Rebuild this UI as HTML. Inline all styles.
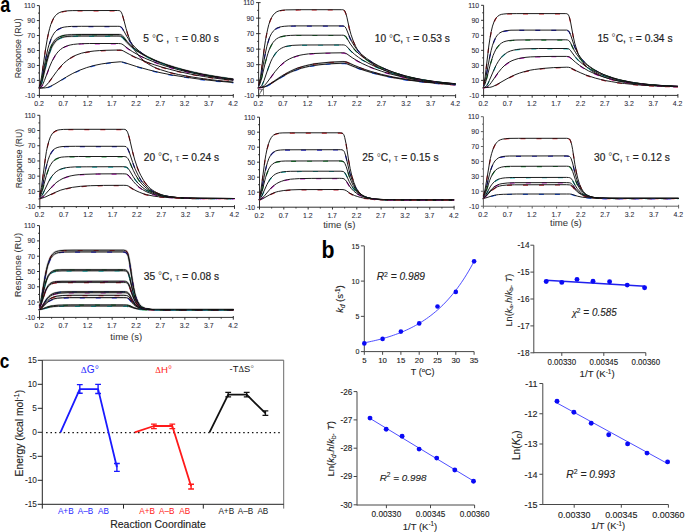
<!DOCTYPE html>
<html><head><meta charset="utf-8"><style>
html,body{margin:0;padding:0;background:#fff;width:685px;height:532px;overflow:hidden}
svg{display:block}
text{font-family:"Liberation Sans", sans-serif}
</style></head><body>
<svg width="685" height="532" viewBox="0 0 685 532">
<rect width="685" height="532" fill="#fff"/>
<path d="M39.4,5.6 V95.9 M39.4,95.4 H233.3 M36.9,95.4 H39.4 M38,87.92 H39.4 M36.9,80.43 H39.4 M38,72.95 H39.4 M36.9,65.47 H39.4 M38,57.98 H39.4 M36.9,50.5 H39.4 M38,43.02 H39.4 M36.9,35.53 H39.4 M38,28.05 H39.4 M36.9,20.57 H39.4 M38,13.08 H39.4 M36.9,5.6 H39.4 M39.4,95.4 V97.7 M51.52,95.4 V96.7 M63.64,95.4 V97.7 M75.76,95.4 V96.7 M87.88,95.4 V97.7 M99.99,95.4 V96.7 M112.11,95.4 V97.7 M124.23,95.4 V96.7 M136.35,95.4 V97.7 M148.47,95.4 V96.7 M160.59,95.4 V97.7 M172.71,95.4 V96.7 M184.83,95.4 V97.7 M196.94,95.4 V96.7 M209.06,95.4 V97.7 M221.18,95.4 V96.7 M233.3,94 V97.7" stroke="#262626" stroke-width="0.95" fill="none"/>
<text x="35" y="97.85" font-size="6.9" fill="#2b2b3a" text-anchor="end" stroke="#2b2b3a" stroke-width="0.08" xml:space="preserve">-10</text>
<text x="35" y="82.88" font-size="6.9" fill="#2b2b3a" text-anchor="end" stroke="#2b2b3a" stroke-width="0.08" xml:space="preserve">10</text>
<text x="35" y="67.92" font-size="6.9" fill="#2b2b3a" text-anchor="end" stroke="#2b2b3a" stroke-width="0.08" xml:space="preserve">30</text>
<text x="35" y="52.95" font-size="6.9" fill="#2b2b3a" text-anchor="end" stroke="#2b2b3a" stroke-width="0.08" xml:space="preserve">50</text>
<text x="35" y="37.98" font-size="6.9" fill="#2b2b3a" text-anchor="end" stroke="#2b2b3a" stroke-width="0.08" xml:space="preserve">70</text>
<text x="35" y="23.02" font-size="6.9" fill="#2b2b3a" text-anchor="end" stroke="#2b2b3a" stroke-width="0.08" xml:space="preserve">90</text>
<text x="35" y="8.05" font-size="6.9" fill="#2b2b3a" text-anchor="end" stroke="#2b2b3a" stroke-width="0.08" xml:space="preserve">110</text>
<text x="39.1" y="106.1" font-size="6.9" fill="#2b2b3a" text-anchor="middle" stroke="#2b2b3a" stroke-width="0.08" xml:space="preserve">0.2</text>
<text x="63.34" y="106.1" font-size="6.9" fill="#2b2b3a" text-anchor="middle" stroke="#2b2b3a" stroke-width="0.08" xml:space="preserve">0.7</text>
<text x="87.58" y="106.1" font-size="6.9" fill="#2b2b3a" text-anchor="middle" stroke="#2b2b3a" stroke-width="0.08" xml:space="preserve">1.2</text>
<text x="111.81" y="106.1" font-size="6.9" fill="#2b2b3a" text-anchor="middle" stroke="#2b2b3a" stroke-width="0.08" xml:space="preserve">1.7</text>
<text x="136.05" y="106.1" font-size="6.9" fill="#2b2b3a" text-anchor="middle" stroke="#2b2b3a" stroke-width="0.08" xml:space="preserve">2.2</text>
<text x="160.29" y="106.1" font-size="6.9" fill="#2b2b3a" text-anchor="middle" stroke="#2b2b3a" stroke-width="0.08" xml:space="preserve">2.7</text>
<text x="184.53" y="106.1" font-size="6.9" fill="#2b2b3a" text-anchor="middle" stroke="#2b2b3a" stroke-width="0.08" xml:space="preserve">3.2</text>
<text x="208.76" y="106.1" font-size="6.9" fill="#2b2b3a" text-anchor="middle" stroke="#2b2b3a" stroke-width="0.08" xml:space="preserve">3.7</text>
<text x="233" y="106.1" font-size="6.9" fill="#2b2b3a" text-anchor="middle" stroke="#2b2b3a" stroke-width="0.08" xml:space="preserve">4.2</text>
<g fill="none"><path id="c1" d="M39.4,85.9 40.4,82.9 41.5,77.1 45.4,50.1 47.5,37.6 48.5,33.0 49.7,28.3 50.8,24.5 52.2,21.0 53.7,18.0 55.3,15.8 57.0,14.1 59.2,12.7 61.5,11.8 64.4,11.2 67.9,10.8 72.8,10.6 117.3,10.5 118.9,10.6 119.9,10.8 120.5,11.2 121.0,11.9 121.6,12.9 122.2,14.3 123.2,17.5 126.1,28.6 128.0,35.0 130.5,41.7 133.2,47.4 134.8,50.1 136.4,52.5 138.1,54.9 139.8,57.0 141.8,59.0 143.7,60.7 145.9,62.4 148.2,64.0 150.9,65.5 153.8,67.0 157.1,68.4 160.6,69.7 168.7,72.2 178.4,74.5 190.1,76.7 203.2,78.7 217.6,80.5 233.3,82.1"/>
<path id="c2" d="M39.4,86.5 40.0,85.4 40.6,83.8 41.7,79.4 45.8,58.2 47.9,48.7 49.1,44.5 50.3,41.0 51.4,38.1 52.6,35.7 54.1,33.2 55.7,31.3 57.4,29.7 59.4,28.6 61.5,27.7 64.2,27.1 67.3,26.7 71.4,26.4 81.7,26.3 117.2,26.3 119.1,26.3 120.3,26.5 121.4,27.2 122.6,28.7 126.7,36.2 129.8,41.1 132.3,44.3 135.2,47.5 139.1,51.0 143.3,54.1 148.2,57.1 153.8,59.9 161.0,63.0 169.1,66.0 178.2,68.8 187.9,71.3 198.2,73.7 209.3,75.8 220.9,77.7 233.3,79.4"/>
<path id="c3" d="M39.4,86.8 40.0,85.9 40.6,84.6 41.7,81.0 46.0,62.4 48.3,53.8 50.5,47.8 51.6,45.3 52.8,43.2 54.3,41.0 55.9,39.3 57.6,37.9 59.8,36.7 61.9,35.9 64.4,35.3 67.5,34.9 71.4,34.7 81.9,34.5 117.0,34.5 119.3,34.5 120.5,34.7 121.6,35.2 122.6,36.0 127.2,41.7 130.7,45.4 133.8,48.1 137.3,50.7 142.0,53.8 147.0,56.6 152.6,59.3 159.0,62.0 166.4,64.7 174.5,67.3 183.1,69.7 192.2,72.0 201.7,74.1 211.8,75.9 222.2,77.6 233.3,79.2"/>
<path id="c4" d="M39.4,87.3 40.2,86.4 40.8,85.4 42.1,81.5 46.6,62.7 48.9,54.5 51.0,48.7 52.2,46.3 53.4,44.3 54.9,42.2 56.5,40.5 58.2,39.2 60.1,38.1 62.3,37.4 64.8,36.8 67.9,36.4 71.6,36.2 81.9,36.0 116.2,36.0 119.1,36.0 120.5,36.2 121.6,36.7 122.6,37.4 127.2,42.7 130.9,46.3 134.2,49.0 137.9,51.6 142.6,54.4 147.8,57.2 153.6,59.9 160.2,62.6 167.8,65.3 175.7,67.8 184.2,70.1 193.2,72.3 202.5,74.3 212.2,76.1 222.4,77.7 233.3,79.2"/>
<path id="c5" d="M39.4,87.8 40.4,87.4 41.1,86.8 41.9,85.9 42.7,84.6 44.4,80.6 49.5,67.0 51.8,61.7 53.4,58.6 55.1,55.7 56.9,53.2 58.6,51.2 60.5,49.5 62.7,47.9 65.0,46.7 67.5,45.7 70.2,45.0 73.5,44.4 77.2,44.0 81.7,43.7 89.4,43.5 102.0,43.5 118.5,43.5 120.8,43.7 121.8,44.0 123.0,44.7 128.0,48.6 132.3,51.5 136.4,53.9 140.6,56.1 146.0,58.7 152.1,61.2 158.5,63.6 165.2,65.9 172.6,68.1 180.2,70.2 188.1,72.1 196.5,73.9 205.2,75.6 214.1,77.0 223.4,78.4 233.3,79.7"/>
<path id="c6" d="M39.4,88.0 41.5,87.9 43.1,87.6 44.4,86.9 45.8,85.8 48.5,82.7 56.5,71.7 58.8,68.7 61.1,66.0 63.6,63.4 66.4,61.0 69.1,59.0 71.8,57.2 74.9,55.6 78.0,54.4 81.5,53.2 85.4,52.3 89.4,51.6 94.1,51.0 99.3,50.6 105.3,50.3 118.7,50.0 120.5,50.0 121.6,50.2 123.2,50.9 129.2,54.2 134.8,57.0 140.6,59.6 147.0,62.2 154.2,64.7 161.8,67.1 169.7,69.3 178.0,71.4 190.4,74.1 203.8,76.5 218.0,78.6 233.3,80.4"/>
<path id="c7" d="M39.4,88.0 43.5,88.0 45.6,87.8 47.7,87.4 50.3,86.4 54.9,84.0 66.5,76.9 72.8,73.4 79.7,70.2 86.7,67.6 93.9,65.5 101.8,63.9 110.8,62.6 120.1,61.8 121.6,61.9 123.2,62.2 136.2,66.4 148.8,69.9 160.0,72.6 172.0,75.0 185.8,77.2 200.5,79.3 216.2,81.0 233.3,82.5"/>
<use href="#c3" stroke="#c8c8c8" stroke-width="2.0"/>
<use href="#c4" stroke="#c8c8c8" stroke-width="2.0"/>
<use href="#c1" stroke="#e0202a" stroke-width="1.2" stroke-dasharray="5 11" stroke-dashoffset="0" transform="translate(0,0.3)"/>
<use href="#c1" stroke="#111" stroke-width="0.95"/>
<use href="#c2" stroke="#2a2ae0" stroke-width="1.2" stroke-dasharray="5 11" stroke-dashoffset="4" transform="translate(0,0.3)"/>
<use href="#c2" stroke="#111" stroke-width="0.95"/>
<use href="#c3" stroke="#20a040" stroke-width="1.2" stroke-dasharray="5 11" stroke-dashoffset="8" transform="translate(0,0.3)"/>
<use href="#c3" stroke="#111" stroke-width="0.95"/>
<use href="#c4" stroke="#20c0c0" stroke-width="1.2" stroke-dasharray="5 11" stroke-dashoffset="12" transform="translate(0,0.3)"/>
<use href="#c4" stroke="#111" stroke-width="0.95"/>
<use href="#c5" stroke="#d020d0" stroke-width="1.2" stroke-dasharray="5 11" stroke-dashoffset="16" transform="translate(0,0.3)"/>
<use href="#c5" stroke="#111" stroke-width="0.95"/>
<use href="#c6" stroke="#c02030" stroke-width="1.2" stroke-dasharray="5 11" stroke-dashoffset="20" transform="translate(0,0.3)"/>
<use href="#c6" stroke="#111" stroke-width="0.95"/>
<use href="#c7" stroke="#2060ff" stroke-width="1.2" stroke-dasharray="5 11" stroke-dashoffset="24" transform="translate(0,0.3)"/>
<use href="#c7" stroke="#111" stroke-width="0.95"/></g>
<g transform="translate(143.3,42.2) scale(1.0000,1.0000) translate(-143.9,-41.4)"><text x="143.9" y="41.4" font-size="10.2" fill="#1e1e1e" stroke="#1e1e1e" stroke-width="0.2" textLength="75.6" lengthAdjust="spacing" xml:space="preserve">5 <tspan font-size="10" dy="-0.4" fill="#555" stroke="none">°</tspan><tspan dy="0.4">C ,  </tspan><tspan font-family='"Liberation Serif", serif' fill="#555" stroke="none" font-size="10.5">τ</tspan> = 0.80 s</text></g>
<path d="M258.6,2.6 V96.2 M258.6,95.7 H455.6 M256.1,95.7 H260.6 M257.2,87.94 H258.6 M256.1,80.18 H260.6 M257.2,72.42 H258.6 M256.1,64.67 H260.6 M257.2,56.91 H258.6 M256.1,49.15 H260.6 M257.2,41.39 H258.6 M256.1,33.63 H260.6 M257.2,25.88 H258.6 M256.1,18.12 H260.6 M257.2,10.36 H258.6 M256.1,2.6 H260.6 M258.6,95.7 V98 M270.91,95.7 V97 M283.23,95.7 V98 M295.54,95.7 V97 M307.85,95.7 V98 M320.16,95.7 V97 M332.48,95.7 V98 M344.79,95.7 V97 M357.1,95.7 V98 M369.41,95.7 V97 M381.73,95.7 V98 M394.04,95.7 V97 M406.35,95.7 V98 M418.66,95.7 V97 M430.98,95.7 V98 M443.29,95.7 V97 M455.6,94.3 V98" stroke="#262626" stroke-width="0.95" fill="none"/>
<text x="254.2" y="98.15" font-size="6.9" fill="#2b2b3a" text-anchor="end" stroke="#2b2b3a" stroke-width="0.08" xml:space="preserve">-10</text>
<text x="254.2" y="82.63" font-size="6.9" fill="#2b2b3a" text-anchor="end" stroke="#2b2b3a" stroke-width="0.08" xml:space="preserve">10</text>
<text x="254.2" y="67.12" font-size="6.9" fill="#2b2b3a" text-anchor="end" stroke="#2b2b3a" stroke-width="0.08" xml:space="preserve">30</text>
<text x="254.2" y="51.6" font-size="6.9" fill="#2b2b3a" text-anchor="end" stroke="#2b2b3a" stroke-width="0.08" xml:space="preserve">50</text>
<text x="254.2" y="36.08" font-size="6.9" fill="#2b2b3a" text-anchor="end" stroke="#2b2b3a" stroke-width="0.08" xml:space="preserve">70</text>
<text x="254.2" y="20.57" font-size="6.9" fill="#2b2b3a" text-anchor="end" stroke="#2b2b3a" stroke-width="0.08" xml:space="preserve">90</text>
<text x="254.2" y="5.05" font-size="6.9" fill="#2b2b3a" text-anchor="end" stroke="#2b2b3a" stroke-width="0.08" xml:space="preserve">110</text>
<text x="258.3" y="106.4" font-size="6.9" fill="#2b2b3a" text-anchor="middle" stroke="#2b2b3a" stroke-width="0.08" xml:space="preserve">0.2</text>
<text x="282.93" y="106.4" font-size="6.9" fill="#2b2b3a" text-anchor="middle" stroke="#2b2b3a" stroke-width="0.08" xml:space="preserve">0.7</text>
<text x="307.55" y="106.4" font-size="6.9" fill="#2b2b3a" text-anchor="middle" stroke="#2b2b3a" stroke-width="0.08" xml:space="preserve">1.2</text>
<text x="332.18" y="106.4" font-size="6.9" fill="#2b2b3a" text-anchor="middle" stroke="#2b2b3a" stroke-width="0.08" xml:space="preserve">1.7</text>
<text x="356.8" y="106.4" font-size="6.9" fill="#2b2b3a" text-anchor="middle" stroke="#2b2b3a" stroke-width="0.08" xml:space="preserve">2.2</text>
<text x="381.43" y="106.4" font-size="6.9" fill="#2b2b3a" text-anchor="middle" stroke="#2b2b3a" stroke-width="0.08" xml:space="preserve">2.7</text>
<text x="406.05" y="106.4" font-size="6.9" fill="#2b2b3a" text-anchor="middle" stroke="#2b2b3a" stroke-width="0.08" xml:space="preserve">3.2</text>
<text x="430.68" y="106.4" font-size="6.9" fill="#2b2b3a" text-anchor="middle" stroke="#2b2b3a" stroke-width="0.08" xml:space="preserve">3.7</text>
<text x="455.3" y="106.4" font-size="6.9" fill="#2b2b3a" text-anchor="middle" stroke="#2b2b3a" stroke-width="0.08" xml:space="preserve">4.2</text>
<g fill="none"><path id="c8" d="M258.6,85.0 259.6,81.6 260.6,76.2 264.3,48.0 265.5,40.2 266.5,34.7 267.7,29.1 268.8,24.6 270.2,20.5 271.6,17.5 273.2,15.0 275.0,13.1 276.9,11.7 279.5,10.7 282.2,10.2 285.8,9.9 299.2,9.7 341.3,9.7 342.7,9.7 343.7,10.0 344.3,10.4 344.9,11.2 345.9,13.6 346.9,17.2 349.4,28.7 351.0,34.5 353.2,40.9 355.5,46.1 356.9,48.6 358.5,51.0 360.3,53.4 362.0,55.5 364.0,57.5 366.2,59.4 368.5,61.3 371.3,63.2 374.6,65.3 378.4,67.4 382.3,69.4 386.7,71.3 391.0,73.0 395.7,74.7 400.4,76.1 405.6,77.5 416.2,79.9 428.0,81.9 441.0,83.5 455.6,84.8"/>
<path id="c9" d="M258.6,85.8 259.6,83.3 260.8,78.4 264.7,56.3 266.9,46.2 267.9,42.6 269.0,39.0 270.2,36.1 271.6,33.4 273.2,31.2 274.8,29.6 276.7,28.2 278.9,27.3 281.3,26.7 284.2,26.3 288.2,26.0 293.7,25.9 341.3,25.9 342.9,25.9 343.9,26.1 344.5,26.4 345.1,26.9 346.3,28.8 350.0,38.0 352.6,43.1 354.9,46.8 357.7,50.4 359.7,52.5 361.8,54.6 366.6,58.4 372.3,62.3 378.6,65.8 385.9,69.2 393.7,72.3 402.2,75.1 411.3,77.5 420.9,79.5 431.6,81.3 443.0,82.8 455.6,84.0"/>
<path id="c10" d="M258.6,86.4 259.2,85.5 259.8,84.3 261.0,80.7 265.5,61.7 267.9,53.5 269.0,50.2 270.2,47.4 271.6,44.7 273.0,42.5 274.8,40.4 276.5,38.9 278.5,37.7 280.9,36.7 283.4,36.1 286.6,35.7 290.5,35.4 296.0,35.2 341.3,35.2 343.1,35.2 344.1,35.4 345.3,36.0 346.3,37.1 350.4,44.1 353.4,48.1 356.3,51.4 359.7,54.5 364.4,58.1 369.9,61.7 376.0,65.0 382.7,68.2 389.8,71.0 397.5,73.6 405.6,75.9 414.2,78.0 423.5,79.8 433.3,81.3 444.0,82.6 455.6,83.8"/>
<path id="c11" d="M258.6,87.5 259.8,87.3 260.8,86.7 261.6,85.8 262.3,84.5 263.9,80.8 268.3,68.0 271.0,61.1 272.4,58.3 274.0,55.6 275.5,53.3 277.3,51.3 279.3,49.6 281.3,48.3 283.4,47.3 286.0,46.4 288.7,45.9 292.1,45.4 296.0,45.2 301.2,45.0 341.5,44.9 343.3,44.9 344.5,45.1 345.5,45.5 346.5,46.2 351.0,51.1 354.5,54.3 358.3,57.2 362.4,59.9 367.9,63.0 373.8,65.9 380.1,68.6 386.8,71.1 393.9,73.4 401.2,75.5 408.9,77.3 417.2,78.9 425.9,80.4 435.1,81.6 445.0,82.8 455.6,83.7"/>
<path id="c12" d="M258.6,87.5 260.4,87.5 261.8,87.2 262.9,86.6 264.3,85.5 265.7,84.1 267.3,82.1 275.0,71.7 278.9,67.1 281.5,64.5 284.2,62.2 287.0,60.3 289.7,58.8 292.9,57.4 296.2,56.2 300.0,55.2 303.9,54.5 308.4,53.9 313.6,53.5 327.0,53.0 342.5,52.8 344.1,52.9 345.3,53.2 346.9,53.9 352.2,57.7 356.9,60.6 362.2,63.5 368.1,66.2 374.8,68.9 381.7,71.3 389.0,73.6 396.9,75.6 403.0,77.0 409.5,78.3 423.3,80.6 438.7,82.4 455.6,83.9"/>
<path id="c13" d="M258.6,87.6 261.0,87.5 262.7,87.3 264.5,86.8 266.5,86.0 270.2,83.8 281.1,76.5 287.2,72.9 290.5,71.2 294.1,69.5 297.6,68.1 301.3,66.9 305.3,65.8 309.6,64.8 314.2,63.9 318.9,63.3 329.7,62.2 342.9,61.6 345.1,61.7 346.7,62.0 353.8,65.2 358.9,67.3 364.6,69.4 370.7,71.4 381.3,74.4 392.8,77.0 406.4,79.4 421.1,81.4 437.5,83.1 455.6,84.4"/>
<path id="c14" d="M258.6,87.6 261.0,87.5 262.7,87.3 264.5,86.8 266.5,86.1 270.2,84.1 281.1,77.3 287.2,73.8 290.5,72.2 294.1,70.7 297.6,69.4 301.3,68.2 305.3,67.2 309.6,66.2 314.2,65.5 318.9,64.8 329.7,63.8 342.9,63.2 345.1,63.3 346.7,63.7 354.1,66.7 359.1,68.6 365.0,70.6 371.1,72.4 381.7,75.2 393.2,77.6 406.5,79.8 421.3,81.7 437.5,83.3 455.6,84.5"/>
<use href="#c13" stroke="#c8c8c8" stroke-width="1.6"/>
<use href="#c14" stroke="#c8c8c8" stroke-width="1.6"/>
<use href="#c8" stroke="#e0202a" stroke-width="1.2" stroke-dasharray="5 11" stroke-dashoffset="0" transform="translate(0,0.3)"/>
<use href="#c8" stroke="#111" stroke-width="0.95"/>
<use href="#c9" stroke="#2a2ae0" stroke-width="1.2" stroke-dasharray="5 11" stroke-dashoffset="4" transform="translate(0,0.3)"/>
<use href="#c9" stroke="#111" stroke-width="0.95"/>
<use href="#c10" stroke="#20a040" stroke-width="1.2" stroke-dasharray="5 11" stroke-dashoffset="8" transform="translate(0,0.3)"/>
<use href="#c10" stroke="#111" stroke-width="0.95"/>
<use href="#c11" stroke="#20c0c0" stroke-width="1.2" stroke-dasharray="5 11" stroke-dashoffset="12" transform="translate(0,0.3)"/>
<use href="#c11" stroke="#111" stroke-width="0.95"/>
<use href="#c12" stroke="#d020d0" stroke-width="1.2" stroke-dasharray="5 11" stroke-dashoffset="16" transform="translate(0,0.3)"/>
<use href="#c12" stroke="#111" stroke-width="0.95"/>
<use href="#c13" stroke="#c02030" stroke-width="1.2" stroke-dasharray="5 11" stroke-dashoffset="20" transform="translate(0,0.3)"/>
<use href="#c13" stroke="#111" stroke-width="0.95"/>
<use href="#c14" stroke="#2060ff" stroke-width="1.2" stroke-dasharray="5 11" stroke-dashoffset="24" transform="translate(0,0.3)"/>
<use href="#c14" stroke="#111" stroke-width="0.95"/></g>
<g transform="translate(374.7,42.2) scale(1.0000,1.0000) translate(-375.3,-41.4)"><text x="375.3" y="41.4" font-size="10.2" fill="#1e1e1e" stroke="#1e1e1e" stroke-width="0.2" textLength="75.2" lengthAdjust="spacing" xml:space="preserve">10 <tspan font-size="10" dy="-0.4" fill="#555" stroke="none">°</tspan><tspan dy="0.4">C, </tspan><tspan font-family='"Liberation Serif", serif' fill="#555" stroke="none" font-size="10.5">τ</tspan> = 0.53 s</text></g>
<path d="M483.6,5.3 V95.9 M483.6,95.4 H677.9 M481.1,95.4 H483.6 M482.2,87.89 H483.6 M481.1,80.38 H483.6 M482.2,72.88 H483.6 M481.1,65.37 H483.6 M482.2,57.86 H483.6 M481.1,50.35 H483.6 M482.2,42.84 H483.6 M481.1,35.33 H483.6 M482.2,27.83 H483.6 M481.1,20.32 H483.6 M482.2,12.81 H483.6 M481.1,5.3 H483.6 M483.6,95.4 V97.7 M495.74,95.4 V96.7 M507.89,95.4 V97.7 M520.03,95.4 V96.7 M532.17,95.4 V97.7 M544.32,95.4 V96.7 M556.46,95.4 V97.7 M568.61,95.4 V96.7 M580.75,95.4 V97.7 M592.89,95.4 V96.7 M605.04,95.4 V97.7 M617.18,95.4 V96.7 M629.33,95.4 V97.7 M641.47,95.4 V96.7 M653.61,95.4 V97.7 M665.76,95.4 V96.7 M677.9,94 V97.7" stroke="#262626" stroke-width="0.95" fill="none"/>
<text x="479.2" y="97.85" font-size="6.9" fill="#2b2b3a" text-anchor="end" stroke="#2b2b3a" stroke-width="0.08" xml:space="preserve">-10</text>
<text x="479.2" y="82.83" font-size="6.9" fill="#2b2b3a" text-anchor="end" stroke="#2b2b3a" stroke-width="0.08" xml:space="preserve">10</text>
<text x="479.2" y="67.82" font-size="6.9" fill="#2b2b3a" text-anchor="end" stroke="#2b2b3a" stroke-width="0.08" xml:space="preserve">30</text>
<text x="479.2" y="52.8" font-size="6.9" fill="#2b2b3a" text-anchor="end" stroke="#2b2b3a" stroke-width="0.08" xml:space="preserve">50</text>
<text x="479.2" y="37.78" font-size="6.9" fill="#2b2b3a" text-anchor="end" stroke="#2b2b3a" stroke-width="0.08" xml:space="preserve">70</text>
<text x="479.2" y="22.77" font-size="6.9" fill="#2b2b3a" text-anchor="end" stroke="#2b2b3a" stroke-width="0.08" xml:space="preserve">90</text>
<text x="479.2" y="7.75" font-size="6.9" fill="#2b2b3a" text-anchor="end" stroke="#2b2b3a" stroke-width="0.08" xml:space="preserve">110</text>
<text x="483.3" y="106.1" font-size="6.9" fill="#2b2b3a" text-anchor="middle" stroke="#2b2b3a" stroke-width="0.08" xml:space="preserve">0.2</text>
<text x="507.59" y="106.1" font-size="6.9" fill="#2b2b3a" text-anchor="middle" stroke="#2b2b3a" stroke-width="0.08" xml:space="preserve">0.7</text>
<text x="531.88" y="106.1" font-size="6.9" fill="#2b2b3a" text-anchor="middle" stroke="#2b2b3a" stroke-width="0.08" xml:space="preserve">1.2</text>
<text x="556.16" y="106.1" font-size="6.9" fill="#2b2b3a" text-anchor="middle" stroke="#2b2b3a" stroke-width="0.08" xml:space="preserve">1.7</text>
<text x="580.45" y="106.1" font-size="6.9" fill="#2b2b3a" text-anchor="middle" stroke="#2b2b3a" stroke-width="0.08" xml:space="preserve">2.2</text>
<text x="604.74" y="106.1" font-size="6.9" fill="#2b2b3a" text-anchor="middle" stroke="#2b2b3a" stroke-width="0.08" xml:space="preserve">2.7</text>
<text x="629.03" y="106.1" font-size="6.9" fill="#2b2b3a" text-anchor="middle" stroke="#2b2b3a" stroke-width="0.08" xml:space="preserve">3.2</text>
<text x="653.31" y="106.1" font-size="6.9" fill="#2b2b3a" text-anchor="middle" stroke="#2b2b3a" stroke-width="0.08" xml:space="preserve">3.7</text>
<text x="677.6" y="106.1" font-size="6.9" fill="#2b2b3a" text-anchor="middle" stroke="#2b2b3a" stroke-width="0.08" xml:space="preserve">4.2</text>
<g fill="none"><path id="c15" d="M483.6,84.3 484.4,81.1 485.2,76.5 488.8,46.0 490.0,38.1 491.2,31.7 492.5,26.1 494.1,21.6 495.6,18.7 496.6,17.4 497.6,16.4 499.3,15.2 501.3,14.4 503.8,14.0 507.3,13.7 516.2,13.6 565.2,13.6 566.8,13.7 567.7,14.1 568.5,15.1 569.3,16.9 570.5,21.7 573.0,35.3 574.7,43.1 576.9,50.3 578.0,53.5 579.2,56.1 580.4,58.5 581.7,60.8 583.1,62.8 584.6,64.7 586.4,66.6 588.1,68.2 590.1,69.7 592.2,71.2 595.1,73.0 598.4,74.6 601.9,76.2 605.8,77.6 609.9,78.9 614.4,80.1 619.0,81.2 624.1,82.2 634.8,83.8 647.0,85.1 661.2,86.0 677.9,86.7"/>
<path id="c16" d="M483.6,85.7 484.6,83.3 485.5,79.5 489.8,56.4 491.2,50.3 492.5,45.3 494.1,40.9 495.8,37.4 496.8,35.9 497.8,34.7 498.8,33.7 499.9,32.8 502.1,31.7 504.4,31.0 507.3,30.5 511.0,30.2 521.1,30.1 565.0,30.1 566.8,30.1 567.7,30.4 568.5,30.9 569.3,31.9 570.5,34.5 573.6,43.9 575.7,49.1 577.1,51.9 578.4,54.3 580.0,56.6 581.7,59.0 585.2,62.8 587.4,64.7 589.5,66.4 594.2,69.6 599.6,72.6 602.9,74.2 606.4,75.6 613.8,78.2 621.7,80.3 630.7,82.1 640.4,83.6 651.3,84.8 663.7,85.7 677.9,86.4"/>
<path id="c17" d="M483.6,86.4 484.2,85.6 484.8,84.5 485.9,81.3 490.6,63.3 492.0,58.8 493.1,55.4 494.5,52.2 496.0,49.1 497.8,46.5 499.5,44.6 501.5,43.1 503.6,41.9 506.1,41.1 509.2,40.5 512.6,40.2 517.0,40.0 533.5,39.8 565.8,39.8 567.3,39.9 568.3,40.3 569.3,41.0 570.3,42.4 574.1,50.2 575.7,52.8 577.3,55.2 579.0,57.4 580.8,59.4 582.7,61.4 584.8,63.4 587.4,65.4 590.3,67.5 593.4,69.5 596.7,71.3 600.2,73.0 603.7,74.6 607.6,76.1 611.4,77.4 617.7,79.3 624.3,80.8 631.5,82.2 639.0,83.3 647.4,84.3 656.5,85.1 666.6,85.8 677.9,86.3"/>
<path id="c18" d="M483.6,87.4 484.8,87.2 485.7,86.6 486.7,85.5 487.7,84.0 489.2,80.8 494.7,68.1 496.6,64.3 498.4,61.3 499.9,59.1 501.7,56.9 503.4,55.2 505.4,53.7 507.7,52.2 510.4,51.0 513.3,50.2 516.6,49.5 520.3,49.1 525.0,48.8 538.6,48.5 566.0,48.5 567.5,48.6 568.5,48.8 569.5,49.4 570.3,50.2 574.7,56.2 578.4,60.3 582.5,63.9 587.2,67.3 593.0,70.7 599.4,73.8 606.4,76.5 614.0,78.8 620.0,80.3 626.4,81.6 633.4,82.8 640.8,83.8 648.8,84.6 657.5,85.3 667.2,85.9 677.9,86.3"/>
<path id="c19" d="M483.6,87.5 485.3,87.4 486.5,87.1 487.5,86.6 488.7,85.7 489.8,84.5 491.2,82.7 498.0,72.8 501.7,68.3 504.0,66.0 506.5,63.9 509.2,62.1 512.0,60.7 514.9,59.6 518.2,58.6 521.9,57.9 526.0,57.3 530.6,56.9 536.1,56.7 552.0,56.4 566.4,56.4 567.9,56.5 568.9,56.7 569.7,57.1 570.6,57.8 575.3,62.1 579.4,65.3 583.7,68.1 588.5,70.9 594.0,73.4 600.0,75.8 606.4,77.9 613.2,79.7 619.2,81.0 625.8,82.2 632.8,83.2 640.4,84.1 648.6,84.9 657.3,85.5 677.9,86.4"/>
<path id="c20" d="M483.6,87.5 489.2,87.4 491.0,87.1 492.9,86.5 496.6,84.7 506.9,78.8 512.7,75.8 516.0,74.4 519.5,73.1 523.0,72.0 526.5,71.1 530.2,70.2 534.3,69.5 543.3,68.4 553.7,67.6 566.8,67.2 568.7,67.3 570.3,67.7 576.7,71.0 580.8,72.9 585.6,74.9 590.7,76.6 595.3,78.1 600.4,79.4 605.6,80.6 611.3,81.6 617.5,82.6 624.3,83.5 639.2,85.0 656.7,86.0 677.9,86.7"/>
<use href="#c15" stroke="#e0202a" stroke-width="1.2" stroke-dasharray="5 11" stroke-dashoffset="0" transform="translate(0,0.3)"/>
<use href="#c15" stroke="#111" stroke-width="0.95"/>
<use href="#c16" stroke="#2a2ae0" stroke-width="1.2" stroke-dasharray="5 11" stroke-dashoffset="4" transform="translate(0,0.3)"/>
<use href="#c16" stroke="#111" stroke-width="0.95"/>
<use href="#c17" stroke="#20a040" stroke-width="1.2" stroke-dasharray="5 11" stroke-dashoffset="8" transform="translate(0,0.3)"/>
<use href="#c17" stroke="#111" stroke-width="0.95"/>
<use href="#c18" stroke="#20c0c0" stroke-width="1.2" stroke-dasharray="5 11" stroke-dashoffset="12" transform="translate(0,0.3)"/>
<use href="#c18" stroke="#111" stroke-width="0.95"/>
<use href="#c19" stroke="#d020d0" stroke-width="1.2" stroke-dasharray="5 11" stroke-dashoffset="16" transform="translate(0,0.3)"/>
<use href="#c19" stroke="#111" stroke-width="0.95"/>
<use href="#c20" stroke="#c02030" stroke-width="1.2" stroke-dasharray="5 11" stroke-dashoffset="20" transform="translate(0,0.3)"/>
<use href="#c20" stroke="#111" stroke-width="0.95"/></g>
<g transform="translate(597.4,41.9) scale(1.0000,1.0000) translate(-597.8,-41.1)"><text x="597.8" y="41.1" font-size="10.2" fill="#1e1e1e" stroke="#1e1e1e" stroke-width="0.2" textLength="75.1" lengthAdjust="spacing" xml:space="preserve">15 <tspan font-size="10" dy="-0.4" fill="#555" stroke="none">°</tspan><tspan dy="0.4">C, </tspan><tspan font-family='"Liberation Serif", serif' fill="#555" stroke="none" font-size="10.5">τ</tspan> = 0.34 s</text></g>
<path d="M39.8,115.3 V207.1 M39.8,206.6 H234.5 M37.3,206.6 H39.8 M38.4,198.99 H39.8 M37.3,191.38 H39.8 M38.4,183.78 H39.8 M37.3,176.17 H39.8 M38.4,168.56 H39.8 M37.3,160.95 H39.8 M38.4,153.34 H39.8 M37.3,145.73 H39.8 M38.4,138.12 H39.8 M37.3,130.52 H39.8 M38.4,122.91 H39.8 M37.3,115.3 H39.8 M39.8,206.6 V208.9 M51.97,206.6 V207.9 M64.14,206.6 V208.9 M76.31,206.6 V207.9 M88.47,206.6 V208.9 M100.64,206.6 V207.9 M112.81,206.6 V208.9 M124.98,206.6 V207.9 M137.15,206.6 V208.9 M149.32,206.6 V207.9 M161.49,206.6 V208.9 M173.66,206.6 V207.9 M185.82,206.6 V208.9 M197.99,206.6 V207.9 M210.16,206.6 V208.9 M222.33,206.6 V207.9 M234.5,205.2 V208.9" stroke="#262626" stroke-width="0.95" fill="none"/>
<text x="35.4" y="209.05" font-size="6.9" fill="#2b2b3a" text-anchor="end" stroke="#2b2b3a" stroke-width="0.08" xml:space="preserve">-10</text>
<text x="35.4" y="193.83" font-size="6.9" fill="#2b2b3a" text-anchor="end" stroke="#2b2b3a" stroke-width="0.08" xml:space="preserve">10</text>
<text x="35.4" y="178.62" font-size="6.9" fill="#2b2b3a" text-anchor="end" stroke="#2b2b3a" stroke-width="0.08" xml:space="preserve">30</text>
<text x="35.4" y="163.4" font-size="6.9" fill="#2b2b3a" text-anchor="end" stroke="#2b2b3a" stroke-width="0.08" xml:space="preserve">50</text>
<text x="35.4" y="148.18" font-size="6.9" fill="#2b2b3a" text-anchor="end" stroke="#2b2b3a" stroke-width="0.08" xml:space="preserve">70</text>
<text x="35.4" y="132.97" font-size="6.9" fill="#2b2b3a" text-anchor="end" stroke="#2b2b3a" stroke-width="0.08" xml:space="preserve">90</text>
<text x="35.4" y="117.75" font-size="6.9" fill="#2b2b3a" text-anchor="end" stroke="#2b2b3a" stroke-width="0.08" xml:space="preserve">110</text>
<text x="39.5" y="217.3" font-size="6.9" fill="#2b2b3a" text-anchor="middle" stroke="#2b2b3a" stroke-width="0.08" xml:space="preserve">0.2</text>
<text x="63.84" y="217.3" font-size="6.9" fill="#2b2b3a" text-anchor="middle" stroke="#2b2b3a" stroke-width="0.08" xml:space="preserve">0.7</text>
<text x="88.17" y="217.3" font-size="6.9" fill="#2b2b3a" text-anchor="middle" stroke="#2b2b3a" stroke-width="0.08" xml:space="preserve">1.2</text>
<text x="112.51" y="217.3" font-size="6.9" fill="#2b2b3a" text-anchor="middle" stroke="#2b2b3a" stroke-width="0.08" xml:space="preserve">1.7</text>
<text x="136.85" y="217.3" font-size="6.9" fill="#2b2b3a" text-anchor="middle" stroke="#2b2b3a" stroke-width="0.08" xml:space="preserve">2.2</text>
<text x="161.19" y="217.3" font-size="6.9" fill="#2b2b3a" text-anchor="middle" stroke="#2b2b3a" stroke-width="0.08" xml:space="preserve">2.7</text>
<text x="185.52" y="217.3" font-size="6.9" fill="#2b2b3a" text-anchor="middle" stroke="#2b2b3a" stroke-width="0.08" xml:space="preserve">3.2</text>
<text x="209.86" y="217.3" font-size="6.9" fill="#2b2b3a" text-anchor="middle" stroke="#2b2b3a" stroke-width="0.08" xml:space="preserve">3.7</text>
<text x="234.2" y="217.3" font-size="6.9" fill="#2b2b3a" text-anchor="middle" stroke="#2b2b3a" stroke-width="0.08" xml:space="preserve">4.2</text>
<g fill="none"><path id="c21" d="M39.8,194.8 40.6,191.7 41.4,187.5 45.3,158.8 46.4,151.6 47.6,145.8 49.0,140.7 50.5,136.6 52.1,133.9 53.0,132.8 54.0,131.9 55.8,130.8 57.7,130.1 60.2,129.7 63.7,129.4 72.9,129.3 123.3,129.3 124.9,129.4 126.1,130.0 127.0,131.1 127.8,132.8 129.2,137.2 132.5,151.4 134.8,160.0 137.5,168.0 139.1,171.9 140.7,175.2 143.6,180.4 145.1,182.7 146.9,184.9 148.6,186.8 150.4,188.5 152.3,190.0 154.3,191.3 156.4,192.5 158.8,193.6 161.3,194.6 163.8,195.4 169.7,196.6 176.7,197.5 184.9,198.0 195.4,198.3 234.5,198.5"/>
<path id="c22" d="M39.8,196.2 40.6,194.2 41.6,190.6 45.8,168.7 47.0,163.8 48.2,159.7 49.7,155.5 51.3,152.5 53.0,150.2 54.0,149.3 55.2,148.5 57.1,147.6 59.3,147.0 62.0,146.6 65.7,146.4 75.4,146.3 123.1,146.3 124.9,146.4 126.1,146.7 127.0,147.6 127.8,148.7 129.2,151.9 132.7,162.5 135.2,169.1 138.1,175.2 139.7,178.0 141.4,180.7 144.5,184.6 147.9,187.8 149.6,189.2 151.6,190.6 155.5,192.7 160.1,194.5 165.4,195.9 171.4,196.9 178.6,197.6 187.0,198.1 197.5,198.3 234.5,198.5"/>
<path id="c23" d="M39.8,197.0 40.8,195.2 41.7,192.7 46.4,175.3 47.8,171.1 49.1,167.6 50.7,164.6 52.5,162.0 54.4,160.1 55.6,159.2 56.7,158.6 58.9,157.8 61.2,157.2 64.3,156.9 68.2,156.7 78.5,156.5 123.1,156.5 124.9,156.6 126.1,156.9 127.0,157.5 128.0,158.7 129.4,161.3 133.3,170.4 135.4,174.6 138.5,179.7 140.1,181.8 141.8,183.9 144.9,187.0 148.2,189.6 151.9,191.8 156.0,193.6 160.7,195.1 166.2,196.2 172.4,197.1 179.6,197.7 188.0,198.1 198.7,198.3 234.5,198.5"/>
<path id="c24" d="M39.8,197.8 41.2,196.6 42.5,194.5 48.4,182.1 50.1,178.9 51.9,176.2 54.0,173.7 56.2,171.7 58.5,170.2 61.0,169.0 63.6,168.2 66.7,167.6 70.4,167.2 74.8,166.9 86.9,166.8 122.9,166.7 124.9,166.8 126.1,167.0 127.0,167.4 128.0,168.3 129.4,170.2 133.3,176.8 135.6,180.2 138.7,183.9 142.2,187.2 145.3,189.5 148.8,191.5 152.7,193.2 156.8,194.6 161.7,195.8 167.1,196.7 173.4,197.3 180.8,197.8 189.1,198.2 199.8,198.4 234.5,198.5"/>
<path id="c25" d="M39.8,198.3 40.8,198.0 41.7,197.5 43.7,196.0 45.4,194.1 52.1,186.6 54.6,184.1 56.9,182.1 59.5,180.4 62.0,178.9 64.7,177.7 67.8,176.6 71.1,175.8 75.0,175.1 79.5,174.6 84.6,174.3 97.6,173.9 122.7,173.8 124.9,173.9 126.1,174.0 127.0,174.3 128.0,175.0 129.4,176.4 133.5,181.6 135.8,184.2 139.1,187.2 142.6,189.6 145.9,191.5 149.4,193.0 153.3,194.3 157.4,195.4 162.3,196.3 167.7,197.0 174.1,197.6 181.5,197.9 200.6,198.4 234.5,198.5"/>
<path id="c26" d="M39.8,198.5 42.1,198.1 44.7,197.3 55.2,192.4 60.8,190.1 66.5,188.5 72.7,187.3 80.7,186.3 90.6,185.7 103.5,185.4 123.3,185.3 126.2,185.4 128.0,185.9 129.2,186.5 133.3,189.2 136.0,190.7 139.3,192.2 143.0,193.6 146.3,194.6 150.0,195.4 154.1,196.2 158.4,196.7 169.1,197.6 182.9,198.2 202.0,198.4 234.5,198.5"/>
<use href="#c21" stroke="#e0202a" stroke-width="1.2" stroke-dasharray="5 11" stroke-dashoffset="0" transform="translate(0,0.3)"/>
<use href="#c21" stroke="#111" stroke-width="0.95"/>
<use href="#c22" stroke="#2a2ae0" stroke-width="1.2" stroke-dasharray="5 11" stroke-dashoffset="4" transform="translate(0,0.3)"/>
<use href="#c22" stroke="#111" stroke-width="0.95"/>
<use href="#c23" stroke="#20a040" stroke-width="1.2" stroke-dasharray="5 11" stroke-dashoffset="8" transform="translate(0,0.3)"/>
<use href="#c23" stroke="#111" stroke-width="0.95"/>
<use href="#c24" stroke="#20c0c0" stroke-width="1.2" stroke-dasharray="5 11" stroke-dashoffset="12" transform="translate(0,0.3)"/>
<use href="#c24" stroke="#111" stroke-width="0.95"/>
<use href="#c25" stroke="#d020d0" stroke-width="1.2" stroke-dasharray="5 11" stroke-dashoffset="16" transform="translate(0,0.3)"/>
<use href="#c25" stroke="#111" stroke-width="0.95"/>
<use href="#c26" stroke="#c02030" stroke-width="1.2" stroke-dasharray="5 11" stroke-dashoffset="20" transform="translate(0,0.3)"/>
<use href="#c26" stroke="#111" stroke-width="0.95"/></g>
<g transform="translate(143.7,160.9) scale(1.0000,1.0000) translate(-144.1,-160.1)"><text x="144.1" y="160.1" font-size="10.2" fill="#1e1e1e" stroke="#1e1e1e" stroke-width="0.2" textLength="75.5" lengthAdjust="spacing" xml:space="preserve">20 <tspan font-size="10" dy="-0.4" fill="#555" stroke="none">°</tspan><tspan dy="0.4">C, </tspan><tspan font-family='"Liberation Serif", serif' fill="#555" stroke="none" font-size="10.5">τ</tspan> = 0.24 s</text></g>
<path d="M259.5,117.2 V207.7 M259.5,207.2 H454.1 M257,207.2 H259.5 M258.1,199.7 H259.5 M257,192.2 H259.5 M258.1,184.7 H259.5 M257,177.2 H259.5 M258.1,169.7 H259.5 M257,162.2 H259.5 M258.1,154.7 H259.5 M257,147.2 H259.5 M258.1,139.7 H259.5 M257,132.2 H259.5 M258.1,124.7 H259.5 M257,117.2 H259.5 M259.5,207.2 V209.5 M271.66,207.2 V208.5 M283.82,207.2 V209.5 M295.99,207.2 V208.5 M308.15,207.2 V209.5 M320.31,207.2 V208.5 M332.48,207.2 V209.5 M344.64,207.2 V208.5 M356.8,207.2 V209.5 M368.96,207.2 V208.5 M381.12,207.2 V209.5 M393.29,207.2 V208.5 M405.45,207.2 V209.5 M417.61,207.2 V208.5 M429.78,207.2 V209.5 M441.94,207.2 V208.5 M454.1,205.8 V209.5" stroke="#262626" stroke-width="0.95" fill="none"/>
<text x="255.1" y="209.65" font-size="6.9" fill="#2b2b3a" text-anchor="end" stroke="#2b2b3a" stroke-width="0.08" xml:space="preserve">-10</text>
<text x="255.1" y="194.65" font-size="6.9" fill="#2b2b3a" text-anchor="end" stroke="#2b2b3a" stroke-width="0.08" xml:space="preserve">10</text>
<text x="255.1" y="179.65" font-size="6.9" fill="#2b2b3a" text-anchor="end" stroke="#2b2b3a" stroke-width="0.08" xml:space="preserve">30</text>
<text x="255.1" y="164.65" font-size="6.9" fill="#2b2b3a" text-anchor="end" stroke="#2b2b3a" stroke-width="0.08" xml:space="preserve">50</text>
<text x="255.1" y="149.65" font-size="6.9" fill="#2b2b3a" text-anchor="end" stroke="#2b2b3a" stroke-width="0.08" xml:space="preserve">70</text>
<text x="255.1" y="134.65" font-size="6.9" fill="#2b2b3a" text-anchor="end" stroke="#2b2b3a" stroke-width="0.08" xml:space="preserve">90</text>
<text x="255.1" y="119.65" font-size="6.9" fill="#2b2b3a" text-anchor="end" stroke="#2b2b3a" stroke-width="0.08" xml:space="preserve">110</text>
<text x="259.2" y="217.9" font-size="6.9" fill="#2b2b3a" text-anchor="middle" stroke="#2b2b3a" stroke-width="0.08" xml:space="preserve">0.2</text>
<text x="283.52" y="217.9" font-size="6.9" fill="#2b2b3a" text-anchor="middle" stroke="#2b2b3a" stroke-width="0.08" xml:space="preserve">0.7</text>
<text x="307.85" y="217.9" font-size="6.9" fill="#2b2b3a" text-anchor="middle" stroke="#2b2b3a" stroke-width="0.08" xml:space="preserve">1.2</text>
<text x="332.18" y="217.9" font-size="6.9" fill="#2b2b3a" text-anchor="middle" stroke="#2b2b3a" stroke-width="0.08" xml:space="preserve">1.7</text>
<text x="356.5" y="217.9" font-size="6.9" fill="#2b2b3a" text-anchor="middle" stroke="#2b2b3a" stroke-width="0.08" xml:space="preserve">2.2</text>
<text x="380.82" y="217.9" font-size="6.9" fill="#2b2b3a" text-anchor="middle" stroke="#2b2b3a" stroke-width="0.08" xml:space="preserve">2.7</text>
<text x="405.15" y="217.9" font-size="6.9" fill="#2b2b3a" text-anchor="middle" stroke="#2b2b3a" stroke-width="0.08" xml:space="preserve">3.2</text>
<text x="429.48" y="217.9" font-size="6.9" fill="#2b2b3a" text-anchor="middle" stroke="#2b2b3a" stroke-width="0.08" xml:space="preserve">3.7</text>
<text x="453.8" y="217.9" font-size="6.9" fill="#2b2b3a" text-anchor="middle" stroke="#2b2b3a" stroke-width="0.08" xml:space="preserve">4.2</text>
<g fill="none"><path id="c27" d="M259.5,196.1 260.3,193.1 261.1,188.8 264.9,160.5 265.9,154.6 267.1,148.8 268.5,143.8 269.8,140.2 271.4,137.4 272.3,136.2 273.3,135.3 275.1,134.2 277.0,133.6 279.5,133.1 282.9,132.9 291.8,132.8 340.3,132.8 342.0,133.0 343.0,133.6 343.6,134.4 344.0,135.1 344.7,137.4 346.1,143.9 348.6,160.1 350.2,168.7 351.9,176.2 353.9,182.5 355.8,187.1 357.0,189.3 358.2,191.1 359.3,192.6 360.7,194.0 362.1,195.2 363.6,196.2 365.2,197.0 366.7,197.6 370.2,198.6 374.7,199.3 380.3,199.7 395.9,199.9 454.1,199.9"/>
<path id="c28" d="M259.5,197.4 260.3,195.4 261.3,191.7 265.1,171.5 266.3,166.5 267.5,162.4 268.8,158.6 270.4,155.6 272.1,153.3 274.1,151.8 275.8,150.9 278.0,150.3 280.7,150.0 284.2,149.8 340.3,149.7 342.0,149.8 343.0,150.2 344.0,151.2 344.7,152.7 346.1,157.2 349.0,169.9 350.6,175.7 352.5,181.4 354.7,186.2 356.8,189.7 358.0,191.2 359.3,192.7 360.7,194.0 362.1,195.0 363.6,195.9 365.2,196.7 368.5,197.9 372.4,198.7 377.2,199.3 383.3,199.7 399.8,199.9 454.1,199.9"/>
<path id="c29" d="M259.5,198.1 260.3,196.7 261.3,194.0 265.5,177.7 266.7,174.0 267.9,170.9 269.4,167.8 271.0,165.6 272.7,163.9 274.9,162.6 276.8,161.9 279.0,161.5 281.7,161.2 285.2,161.0 340.3,160.9 342.0,161.0 343.2,161.4 344.2,162.2 344.9,163.5 346.1,166.3 349.2,176.1 351.0,180.8 353.1,185.3 355.4,189.0 357.8,191.8 360.3,194.0 363.2,195.8 366.5,197.2 370.0,198.2 374.3,198.9 379.4,199.4 385.6,199.7 402.7,199.9 454.1,199.9"/>
<path id="c30" d="M259.5,199.1 260.7,197.9 261.8,196.0 266.9,184.6 268.5,181.7 270.0,179.2 271.8,177.1 273.7,175.3 275.8,173.9 278.2,172.9 280.5,172.3 283.2,171.8 286.4,171.5 290.4,171.3 301.3,171.2 340.1,171.2 342.0,171.3 343.2,171.5 344.2,172.1 344.9,172.9 346.3,175.2 349.2,181.5 351.2,185.2 353.5,188.6 356.2,191.6 358.7,193.7 361.5,195.4 364.6,196.7 367.9,197.7 371.6,198.5 376.1,199.1 381.3,199.4 387.9,199.7 405.6,199.9 454.1,199.9"/>
<path id="c31" d="M259.5,199.6 261.1,198.9 262.8,197.5 264.4,195.9 270.0,189.2 272.1,187.0 274.3,185.2 276.6,183.6 279.0,182.3 281.5,181.3 284.2,180.4 287.3,179.7 290.6,179.2 294.5,178.9 299.4,178.6 311.8,178.4 339.7,178.3 341.8,178.4 343.0,178.5 344.0,178.8 344.9,179.5 346.3,181.1 349.4,186.0 351.5,188.8 354.1,191.4 356.8,193.5 359.3,195.0 362.2,196.3 365.4,197.3 368.9,198.1 372.8,198.7 377.4,199.2 382.9,199.5 389.7,199.7 407.8,199.9 454.1,199.9"/>
<path id="c32" d="M259.5,199.8 261.1,199.4 262.8,198.7 269.8,194.7 273.9,192.8 276.2,192.0 278.6,191.4 283.8,190.5 290.2,189.9 299.0,189.6 339.9,189.5 343.0,189.6 344.9,190.0 346.3,190.7 349.6,193.0 351.9,194.3 354.7,195.6 357.8,196.6 360.5,197.4 363.6,198.0 370.8,198.9 380.0,199.5 392.8,199.8 454.1,199.9"/>
<use href="#c27" stroke="#e0202a" stroke-width="1.2" stroke-dasharray="5 11" stroke-dashoffset="0" transform="translate(0,0.3)"/>
<use href="#c27" stroke="#111" stroke-width="0.95"/>
<use href="#c28" stroke="#2a2ae0" stroke-width="1.2" stroke-dasharray="5 11" stroke-dashoffset="4" transform="translate(0,0.3)"/>
<use href="#c28" stroke="#111" stroke-width="0.95"/>
<use href="#c29" stroke="#20a040" stroke-width="1.2" stroke-dasharray="5 11" stroke-dashoffset="8" transform="translate(0,0.3)"/>
<use href="#c29" stroke="#111" stroke-width="0.95"/>
<use href="#c30" stroke="#20c0c0" stroke-width="1.2" stroke-dasharray="5 11" stroke-dashoffset="12" transform="translate(0,0.3)"/>
<use href="#c30" stroke="#111" stroke-width="0.95"/>
<use href="#c31" stroke="#d020d0" stroke-width="1.2" stroke-dasharray="5 11" stroke-dashoffset="16" transform="translate(0,0.3)"/>
<use href="#c31" stroke="#111" stroke-width="0.95"/>
<use href="#c32" stroke="#c02030" stroke-width="1.2" stroke-dasharray="5 11" stroke-dashoffset="20" transform="translate(0,0.3)"/>
<use href="#c32" stroke="#111" stroke-width="0.95"/></g>
<g transform="translate(362.3,161.2) scale(1.0000,1.0000) translate(-362.9,-160.4)"><text x="362.9" y="160.4" font-size="10.2" fill="#1e1e1e" stroke="#1e1e1e" stroke-width="0.2" textLength="76.2" lengthAdjust="spacing" xml:space="preserve">25 <tspan font-size="10" dy="-0.4" fill="#555" stroke="none">°</tspan><tspan dy="0.4">C, </tspan><tspan font-family='"Liberation Serif", serif' fill="#555" stroke="none" font-size="10.5">τ</tspan> = 0.15 s</text></g>
<path d="M483.4,116.7 V206.7 M483.4,206.2 H678.6 M480.9,206.2 H483.4 M482,198.74 H483.4 M480.9,191.28 H483.4 M482,183.82 H483.4 M480.9,176.37 H483.4 M482,168.91 H483.4 M480.9,161.45 H483.4 M482,153.99 H483.4 M480.9,146.53 H483.4 M482,139.07 H483.4 M480.9,131.62 H483.4 M482,124.16 H483.4 M480.9,116.7 H483.4 M483.4,206.2 V208.5 M495.6,206.2 V207.5 M507.8,206.2 V208.5 M520,206.2 V207.5 M532.2,206.2 V208.5 M544.4,206.2 V207.5 M556.6,206.2 V208.5 M568.8,206.2 V207.5 M581,206.2 V208.5 M593.2,206.2 V207.5 M605.4,206.2 V208.5 M617.6,206.2 V207.5 M629.8,206.2 V208.5 M642,206.2 V207.5 M654.2,206.2 V208.5 M666.4,206.2 V207.5 M678.6,204.8 V208.5" stroke="#5a5a5a" stroke-width="0.95" fill="none"/>
<text x="479" y="208.65" font-size="6.9" fill="#2b2b3a" text-anchor="end" stroke="#2b2b3a" stroke-width="0.08" xml:space="preserve">-10</text>
<text x="479" y="193.73" font-size="6.9" fill="#2b2b3a" text-anchor="end" stroke="#2b2b3a" stroke-width="0.08" xml:space="preserve">10</text>
<text x="479" y="178.82" font-size="6.9" fill="#2b2b3a" text-anchor="end" stroke="#2b2b3a" stroke-width="0.08" xml:space="preserve">30</text>
<text x="479" y="163.9" font-size="6.9" fill="#2b2b3a" text-anchor="end" stroke="#2b2b3a" stroke-width="0.08" xml:space="preserve">50</text>
<text x="479" y="148.98" font-size="6.9" fill="#2b2b3a" text-anchor="end" stroke="#2b2b3a" stroke-width="0.08" xml:space="preserve">70</text>
<text x="479" y="134.07" font-size="6.9" fill="#2b2b3a" text-anchor="end" stroke="#2b2b3a" stroke-width="0.08" xml:space="preserve">90</text>
<text x="479" y="119.15" font-size="6.9" fill="#2b2b3a" text-anchor="end" stroke="#2b2b3a" stroke-width="0.08" xml:space="preserve">110</text>
<text x="483.1" y="216.9" font-size="6.9" fill="#2b2b3a" text-anchor="middle" stroke="#2b2b3a" stroke-width="0.08" xml:space="preserve">0.2</text>
<text x="507.5" y="216.9" font-size="6.9" fill="#2b2b3a" text-anchor="middle" stroke="#2b2b3a" stroke-width="0.08" xml:space="preserve">0.7</text>
<text x="531.9" y="216.9" font-size="6.9" fill="#2b2b3a" text-anchor="middle" stroke="#2b2b3a" stroke-width="0.08" xml:space="preserve">1.2</text>
<text x="556.3" y="216.9" font-size="6.9" fill="#2b2b3a" text-anchor="middle" stroke="#2b2b3a" stroke-width="0.08" xml:space="preserve">1.7</text>
<text x="580.7" y="216.9" font-size="6.9" fill="#2b2b3a" text-anchor="middle" stroke="#2b2b3a" stroke-width="0.08" xml:space="preserve">2.2</text>
<text x="605.1" y="216.9" font-size="6.9" fill="#2b2b3a" text-anchor="middle" stroke="#2b2b3a" stroke-width="0.08" xml:space="preserve">2.7</text>
<text x="629.5" y="216.9" font-size="6.9" fill="#2b2b3a" text-anchor="middle" stroke="#2b2b3a" stroke-width="0.08" xml:space="preserve">3.2</text>
<text x="653.9" y="216.9" font-size="6.9" fill="#2b2b3a" text-anchor="middle" stroke="#2b2b3a" stroke-width="0.08" xml:space="preserve">3.7</text>
<text x="678.3" y="216.9" font-size="6.9" fill="#2b2b3a" text-anchor="middle" stroke="#2b2b3a" stroke-width="0.08" xml:space="preserve">4.2</text>
<g fill="none"><path id="c33" d="M483.4,195.6 484.2,193.2 485.2,188.9 489.3,164.3 490.4,158.4 491.6,153.6 493.2,148.7 494.7,145.3 496.5,142.7 497.5,141.7 498.6,140.7 500.6,139.7 502.7,139.1 505.5,138.7 509.0,138.4 518.5,138.3 566.6,138.3 568.3,138.5 568.9,138.7 569.5,139.1 570.1,139.8 570.5,140.6 571.2,142.8 571.8,145.2 572.6,149.4 574.9,164.4 576.3,172.0 577.9,178.8 579.6,184.4 581.4,188.4 583.3,191.5 584.3,192.7 585.5,193.8 586.7,194.8 588.0,195.6 590.8,196.8 593.9,197.5 597.8,198.0 603.1,198.3 617.1,198.4 678.6,198.4"/>
<path id="c34" d="M483.4,196.5 484.2,194.9 485.2,192.0 489.5,174.2 490.6,170.2 491.8,166.8 493.4,163.4 494.9,161.0 496.7,159.2 498.8,157.7 500.8,157.0 502.9,156.5 505.7,156.2 509.4,156.0 566.8,155.9 568.5,156.1 569.5,156.4 570.5,157.4 571.2,158.8 572.6,163.0 575.1,173.7 576.7,179.3 578.5,184.2 580.2,187.9 582.2,190.9 584.3,193.2 586.7,194.9 589.4,196.2 592.3,197.1 595.6,197.7 599.9,198.1 605.4,198.3 620.2,198.4 678.6,198.4"/>
<path id="c35" d="M483.4,197.1 484.4,195.7 485.4,193.5 489.6,180.6 491.0,177.1 492.4,174.4 493.9,172.0 495.7,170.0 497.5,168.7 499.6,167.7 501.6,167.1 503.9,166.7 506.8,166.4 510.5,166.3 566.6,166.2 568.3,166.3 569.5,166.6 570.5,167.2 571.2,168.3 572.6,171.3 575.3,179.5 576.9,183.6 578.7,187.1 580.6,190.1 582.6,192.3 584.9,194.2 587.4,195.6 590.2,196.6 593.3,197.3 596.8,197.8 601.3,198.1 607.0,198.3 622.4,198.4 678.6,198.4"/>
<path id="c36" d="M483.4,197.7 484.4,196.9 485.5,195.4 490.2,186.9 491.6,184.8 493.0,183.1 494.7,181.4 496.5,180.2 498.4,179.2 500.8,178.5 502.9,178.1 505.5,177.8 512.5,177.5 566.6,177.4 568.5,177.5 569.7,177.7 570.7,178.1 571.4,178.8 572.6,180.5 575.5,185.9 577.1,188.4 579.0,190.8 581.2,192.8 583.3,194.3 585.7,195.5 588.4,196.4 591.3,197.1 594.7,197.6 598.4,198.0 609.1,198.3 678.6,198.4"/>
<path id="c37" d="M483.4,198.0 484.6,197.3 485.7,196.3 490.8,190.0 492.4,188.4 493.9,187.0 495.7,185.9 497.6,184.9 499.8,184.1 502.1,183.6 507.2,183.0 514.6,182.7 566.6,182.6 569.7,182.8 570.7,183.2 571.4,183.7 572.6,184.8 575.5,188.8 577.3,190.8 579.2,192.6 581.6,194.2 583.7,195.3 586.1,196.1 588.8,196.9 591.9,197.4 599.2,198.1 610.1,198.4 678.6,198.4"/>
<path id="c38" d="M483.4,198.0 484.6,197.5 485.7,196.6 490.8,191.1 492.4,189.7 493.9,188.6 495.7,187.5 497.6,186.7 499.8,186.0 502.1,185.5 507.2,185.0 514.6,184.8 566.6,184.7 569.7,184.9 570.7,185.2 571.4,185.6 572.8,186.8 575.5,190.0 577.3,191.8 579.2,193.3 581.6,194.7 583.7,195.6 586.3,196.4 589.0,197.0 592.1,197.5 599.5,198.1 610.5,198.4 678.6,198.4"/>
<path id="c39" d="M483.4,198.3 485.9,197.9 491.4,196.1 494.7,195.2 498.6,194.6 503.3,194.3 516.6,194.0 566.6,194.0 569.7,194.0 571.4,194.2 577.5,196.2 582.2,197.2 587.1,197.7 593.3,198.1 612.4,198.4 678.6,198.4"/>
<use href="#c33" stroke="#e0202a" stroke-width="1.2" stroke-dasharray="5 11" stroke-dashoffset="0" transform="translate(0,0.3)"/>
<use href="#c33" stroke="#111" stroke-width="0.95"/>
<use href="#c34" stroke="#2a2ae0" stroke-width="1.2" stroke-dasharray="5 11" stroke-dashoffset="4" transform="translate(0,0.3)"/>
<use href="#c34" stroke="#111" stroke-width="0.95"/>
<use href="#c35" stroke="#20a040" stroke-width="1.2" stroke-dasharray="5 11" stroke-dashoffset="8" transform="translate(0,0.3)"/>
<use href="#c35" stroke="#111" stroke-width="0.95"/>
<use href="#c36" stroke="#20c0c0" stroke-width="1.2" stroke-dasharray="5 11" stroke-dashoffset="12" transform="translate(0,0.3)"/>
<use href="#c36" stroke="#111" stroke-width="0.95"/>
<use href="#c37" stroke="#d020d0" stroke-width="1.2" stroke-dasharray="5 11" stroke-dashoffset="16" transform="translate(0,0.3)"/>
<use href="#c37" stroke="#111" stroke-width="0.95"/>
<use href="#c38" stroke="#c02030" stroke-width="1.2" stroke-dasharray="5 11" stroke-dashoffset="20" transform="translate(0,0.3)"/>
<use href="#c38" stroke="#111" stroke-width="0.95"/>
<use href="#c39" stroke="#2060ff" stroke-width="1.2" stroke-dasharray="5 11" stroke-dashoffset="24" transform="translate(0,0.3)"/>
<use href="#c39" stroke="#111" stroke-width="0.95"/></g>
<g transform="translate(593.9,160.9) scale(1.0000,1.0000) translate(-594.1,-160.1)"><text x="594.1" y="160.1" font-size="10.2" fill="#1e1e1e" stroke="#1e1e1e" stroke-width="0.2" textLength="76" lengthAdjust="spacing" xml:space="preserve">30 <tspan font-size="10" dy="-0.4" fill="#555" stroke="none">°</tspan><tspan dy="0.4">C, </tspan><tspan font-family='"Liberation Serif", serif' fill="#555" stroke="none" font-size="10.5">τ</tspan> = 0.12 s</text></g>
<path d="M39.5,225.6 V317.9 M39.5,317.4 H233.3 M37,317.4 H39.5 M38.1,309.75 H39.5 M37,302.1 H39.5 M38.1,294.45 H39.5 M37,286.8 H39.5 M38.1,279.15 H39.5 M37,271.5 H39.5 M38.1,263.85 H39.5 M37,256.2 H39.5 M38.1,248.55 H39.5 M37,240.9 H39.5 M38.1,233.25 H39.5 M37,225.6 H39.5 M39.5,317.4 V319.7 M51.61,317.4 V318.7 M63.72,317.4 V319.7 M75.84,317.4 V318.7 M87.95,317.4 V319.7 M100.06,317.4 V318.7 M112.18,317.4 V319.7 M124.29,317.4 V318.7 M136.4,317.4 V319.7 M148.51,317.4 V318.7 M160.62,317.4 V319.7 M172.74,317.4 V318.7 M184.85,317.4 V319.7 M196.96,317.4 V318.7 M209.08,317.4 V319.7 M221.19,317.4 V318.7 M233.3,316 V319.7" stroke="#262626" stroke-width="0.95" fill="none"/>
<text x="35.1" y="319.85" font-size="6.9" fill="#2b2b3a" text-anchor="end" stroke="#2b2b3a" stroke-width="0.08" xml:space="preserve">-10</text>
<text x="35.1" y="304.55" font-size="6.9" fill="#2b2b3a" text-anchor="end" stroke="#2b2b3a" stroke-width="0.08" xml:space="preserve">10</text>
<text x="35.1" y="289.25" font-size="6.9" fill="#2b2b3a" text-anchor="end" stroke="#2b2b3a" stroke-width="0.08" xml:space="preserve">30</text>
<text x="35.1" y="273.95" font-size="6.9" fill="#2b2b3a" text-anchor="end" stroke="#2b2b3a" stroke-width="0.08" xml:space="preserve">50</text>
<text x="35.1" y="258.65" font-size="6.9" fill="#2b2b3a" text-anchor="end" stroke="#2b2b3a" stroke-width="0.08" xml:space="preserve">70</text>
<text x="35.1" y="243.35" font-size="6.9" fill="#2b2b3a" text-anchor="end" stroke="#2b2b3a" stroke-width="0.08" xml:space="preserve">90</text>
<text x="35.1" y="228.05" font-size="6.9" fill="#2b2b3a" text-anchor="end" stroke="#2b2b3a" stroke-width="0.08" xml:space="preserve">110</text>
<text x="39.2" y="328.1" font-size="6.9" fill="#2b2b3a" text-anchor="middle" stroke="#2b2b3a" stroke-width="0.08" xml:space="preserve">0.2</text>
<text x="63.42" y="328.1" font-size="6.9" fill="#2b2b3a" text-anchor="middle" stroke="#2b2b3a" stroke-width="0.08" xml:space="preserve">0.7</text>
<text x="87.65" y="328.1" font-size="6.9" fill="#2b2b3a" text-anchor="middle" stroke="#2b2b3a" stroke-width="0.08" xml:space="preserve">1.2</text>
<text x="111.88" y="328.1" font-size="6.9" fill="#2b2b3a" text-anchor="middle" stroke="#2b2b3a" stroke-width="0.08" xml:space="preserve">1.7</text>
<text x="136.1" y="328.1" font-size="6.9" fill="#2b2b3a" text-anchor="middle" stroke="#2b2b3a" stroke-width="0.08" xml:space="preserve">2.2</text>
<text x="160.32" y="328.1" font-size="6.9" fill="#2b2b3a" text-anchor="middle" stroke="#2b2b3a" stroke-width="0.08" xml:space="preserve">2.7</text>
<text x="184.55" y="328.1" font-size="6.9" fill="#2b2b3a" text-anchor="middle" stroke="#2b2b3a" stroke-width="0.08" xml:space="preserve">3.2</text>
<text x="208.78" y="328.1" font-size="6.9" fill="#2b2b3a" text-anchor="middle" stroke="#2b2b3a" stroke-width="0.08" xml:space="preserve">3.7</text>
<text x="233" y="328.1" font-size="6.9" fill="#2b2b3a" text-anchor="middle" stroke="#2b2b3a" stroke-width="0.08" xml:space="preserve">4.2</text>
<g fill="none"><path id="c40" d="M39.5,306.1 40.3,303.7 41.2,299.4 45.3,275.4 46.5,269.6 47.6,264.9 49.2,260.1 50.7,256.7 52.5,254.2 53.5,253.3 54.4,252.5 56.2,251.6 58.3,251.0 61.0,250.6 64.5,250.3 74.0,250.2 123.4,250.2 125.4,250.5 125.9,250.7 126.5,251.2 127.5,252.8 128.3,255.1 129.0,258.4 129.8,262.8 132.3,280.2 133.5,287.2 134.8,293.5 136.2,298.2 137.6,301.5 139.1,304.1 140.9,306.1 141.8,306.9 143.0,307.6 145.1,308.5 147.8,309.1 151.1,309.5 155.6,309.7 233.3,309.7"/>
<path id="c41" d="M39.5,306.2 40.3,303.8 41.2,299.7 45.3,276.3 46.5,270.7 47.6,266.1 49.2,261.5 50.7,258.2 52.5,255.8 53.5,254.9 54.4,254.2 56.2,253.3 58.3,252.6 61.0,252.2 64.5,252.0 74.0,251.9 123.4,251.9 125.4,252.1 125.9,252.4 126.5,252.9 127.5,254.4 128.3,256.6 129.0,259.8 129.8,264.1 132.3,280.9 133.5,287.7 134.8,293.9 136.2,298.4 137.6,301.6 139.1,304.2 140.9,306.1 143.0,307.6 145.1,308.5 147.8,309.1 151.1,309.5 155.6,309.7 233.3,309.7"/>
<path id="c42" d="M39.5,306.7 40.3,304.7 41.1,302.0 44.7,285.7 45.9,281.5 46.9,278.6 48.2,275.6 49.6,273.6 51.1,272.0 52.9,271.0 54.4,270.4 56.4,270.0 62.0,269.7 123.6,269.7 125.4,269.8 126.5,270.3 127.5,271.3 128.5,273.2 129.8,277.6 132.3,288.8 133.5,293.4 134.8,297.6 136.4,301.2 138.0,303.7 139.5,305.5 141.4,307.0 143.8,308.1 146.1,308.8 148.8,309.2 152.3,309.5 157.1,309.7 233.3,309.7"/>
<path id="c43" d="M39.5,306.8 40.3,304.8 41.1,302.2 44.7,286.4 45.9,282.2 46.9,279.5 48.2,276.5 49.6,274.5 51.1,273.0 52.9,272.0 54.4,271.5 56.4,271.1 62.0,270.8 123.6,270.7 125.4,270.9 126.5,271.3 127.5,272.3 128.5,274.1 129.8,278.4 132.3,289.3 133.5,293.7 134.8,297.9 136.4,301.4 138.0,303.8 139.5,305.6 141.4,307.1 143.8,308.2 146.1,308.8 148.8,309.2 152.3,309.5 157.1,309.7 233.3,309.7"/>
<path id="c44" d="M39.5,307.6 40.3,306.1 41.1,304.2 44.7,292.6 45.9,289.6 46.9,287.6 48.2,285.5 49.6,284.0 51.1,282.9 52.9,282.1 54.4,281.8 56.4,281.5 62.0,281.3 123.6,281.2 125.4,281.3 126.5,281.6 127.5,282.3 128.5,283.6 129.8,286.6 132.5,294.9 133.7,298.0 135.2,301.3 136.8,303.7 138.3,305.4 140.1,306.7 142.0,307.8 144.3,308.5 146.7,309.0 149.6,309.4 158.1,309.7 233.3,309.7"/>
<path id="c45" d="M39.5,307.7 40.3,306.3 41.1,304.4 44.7,293.3 45.9,290.4 46.9,288.4 48.2,286.4 49.6,285.0 51.1,283.9 52.9,283.2 54.4,282.8 56.4,282.5 62.0,282.3 123.6,282.3 125.4,282.4 126.5,282.7 127.5,283.3 128.5,284.6 129.8,287.5 132.5,295.4 133.7,298.4 135.2,301.6 136.8,303.9 138.3,305.5 140.1,306.8 142.0,307.8 144.3,308.6 146.7,309.0 149.6,309.4 158.1,309.7 233.3,309.7"/>
<path id="c46" d="M39.5,308.9 40.5,308.2 41.6,306.8 46.3,299.5 47.6,297.8 49.0,296.3 50.5,295.0 52.3,293.9 54.2,293.1 56.6,292.5 61.0,291.9 68.0,291.7 123.2,291.6 125.4,291.7 126.5,291.9 127.5,292.3 128.5,293.1 129.8,294.9 132.5,300.0 133.9,302.3 135.4,304.3 137.0,305.7 138.5,306.8 140.5,307.8 142.6,308.5 144.9,308.9 150.5,309.5 159.3,309.7 233.3,309.7"/>
<path id="c47" d="M39.5,309.0 40.5,308.3 41.6,307.0 46.3,300.1 47.6,298.5 49.0,297.1 50.5,295.9 52.3,294.9 54.2,294.1 56.6,293.5 61.0,293.0 68.0,292.7 123.2,292.7 125.4,292.7 126.5,292.9 127.5,293.3 128.5,294.0 129.8,295.8 132.5,300.6 133.9,302.7 135.4,304.6 137.0,305.9 138.5,307.0 140.5,307.9 142.6,308.5 144.9,309.0 150.5,309.5 159.3,309.7 233.3,309.7"/>
<path id="c48" d="M39.5,309.2 40.7,308.5 41.8,307.4 46.5,301.9 48.0,300.4 49.4,299.2 51.1,298.1 52.9,297.3 55.0,296.6 57.3,296.1 62.2,295.5 69.3,295.3 123.2,295.3 126.5,295.5 127.5,295.8 128.5,296.4 130.0,298.1 132.5,301.9 133.9,303.7 135.4,305.3 137.2,306.6 138.7,307.4 140.7,308.2 142.8,308.7 145.1,309.1 150.7,309.5 159.7,309.7 233.3,309.7"/>
<path id="c49" d="M39.5,309.3 40.7,308.7 41.8,307.8 46.5,303.2 48.0,301.8 49.4,300.9 51.1,300.0 52.9,299.2 55.0,298.6 57.3,298.2 62.2,297.8 69.3,297.6 123.2,297.6 126.5,297.7 127.5,298.0 128.5,298.5 130.0,300.0 132.5,303.1 133.9,304.6 135.4,305.9 137.2,307.0 138.7,307.7 140.7,308.4 142.8,308.8 145.1,309.2 150.7,309.6 159.7,309.7 233.3,309.7"/>
<path id="c50" d="M39.5,309.6 41.8,309.1 47.1,307.1 50.2,306.2 53.8,305.6 58.3,305.2 70.9,304.9 123.2,304.9 126.5,305.0 128.5,305.3 130.0,305.8 134.1,307.7 137.4,308.6 141.1,309.2 145.7,309.5 160.6,309.7 233.3,309.7"/>
<path id="c51" d="M39.5,309.6 41.8,309.2 47.1,307.7 50.2,307.0 53.8,306.5 58.3,306.2 70.9,306.0 123.2,306.0 126.5,306.0 128.5,306.3 130.0,306.7 134.1,308.2 137.4,308.9 141.1,309.3 145.7,309.6 160.6,309.7 233.3,309.7"/>
<use href="#c40" stroke="#c8c8c8" stroke-width="2.2"/>
<use href="#c41" stroke="#c8c8c8" stroke-width="2.2"/>
<use href="#c42" stroke="#c8c8c8" stroke-width="1.8"/>
<use href="#c43" stroke="#c8c8c8" stroke-width="1.8"/>
<use href="#c44" stroke="#c8c8c8" stroke-width="1.8"/>
<use href="#c45" stroke="#c8c8c8" stroke-width="1.8"/>
<use href="#c46" stroke="#c8c8c8" stroke-width="1.8"/>
<use href="#c47" stroke="#c8c8c8" stroke-width="1.8"/>
<use href="#c48" stroke="#c8c8c8" stroke-width="1.6"/>
<use href="#c49" stroke="#c8c8c8" stroke-width="1.6"/>
<use href="#c50" stroke="#c8c8c8" stroke-width="1.8"/>
<use href="#c51" stroke="#c8c8c8" stroke-width="1.8"/>
<use href="#c40" stroke="#e0202a" stroke-width="1.2" stroke-dasharray="5 11" stroke-dashoffset="0" transform="translate(0,0.3)"/>
<use href="#c40" stroke="#111" stroke-width="0.95"/>
<use href="#c41" stroke="#2a2ae0" stroke-width="1.2" stroke-dasharray="5 11" stroke-dashoffset="4" transform="translate(0,0.3)"/>
<use href="#c41" stroke="#111" stroke-width="0.95"/>
<use href="#c42" stroke="#20a040" stroke-width="1.2" stroke-dasharray="5 11" stroke-dashoffset="8" transform="translate(0,0.3)"/>
<use href="#c42" stroke="#111" stroke-width="0.95"/>
<use href="#c43" stroke="#20c0c0" stroke-width="1.2" stroke-dasharray="5 11" stroke-dashoffset="12" transform="translate(0,0.3)"/>
<use href="#c43" stroke="#111" stroke-width="0.95"/>
<use href="#c44" stroke="#d020d0" stroke-width="1.2" stroke-dasharray="5 11" stroke-dashoffset="16" transform="translate(0,0.3)"/>
<use href="#c44" stroke="#111" stroke-width="0.95"/>
<use href="#c45" stroke="#c02030" stroke-width="1.2" stroke-dasharray="5 11" stroke-dashoffset="20" transform="translate(0,0.3)"/>
<use href="#c45" stroke="#111" stroke-width="0.95"/>
<use href="#c46" stroke="#2060ff" stroke-width="1.2" stroke-dasharray="5 11" stroke-dashoffset="24" transform="translate(0,0.3)"/>
<use href="#c46" stroke="#111" stroke-width="0.95"/>
<use href="#c47" stroke="#a020a0" stroke-width="1.2" stroke-dasharray="5 11" stroke-dashoffset="28" transform="translate(0,0.3)"/>
<use href="#c47" stroke="#111" stroke-width="0.95"/>
<use href="#c48" stroke="#e0202a" stroke-width="1.2" stroke-dasharray="5 11" stroke-dashoffset="32" transform="translate(0,0.3)"/>
<use href="#c48" stroke="#111" stroke-width="0.95"/>
<use href="#c49" stroke="#2a2ae0" stroke-width="1.2" stroke-dasharray="5 11" stroke-dashoffset="36" transform="translate(0,0.3)"/>
<use href="#c49" stroke="#111" stroke-width="0.95"/>
<use href="#c50" stroke="#20a040" stroke-width="1.2" stroke-dasharray="5 11" stroke-dashoffset="40" transform="translate(0,0.3)"/>
<use href="#c50" stroke="#111" stroke-width="0.95"/>
<use href="#c51" stroke="#20c0c0" stroke-width="1.2" stroke-dasharray="5 11" stroke-dashoffset="44" transform="translate(0,0.3)"/>
<use href="#c51" stroke="#111" stroke-width="0.95"/></g>
<g transform="translate(143.7,279.6) scale(1.0000,1.0000) translate(-144.1,-278.8)"><text x="144.1" y="278.8" font-size="10.2" fill="#1e1e1e" stroke="#1e1e1e" stroke-width="0.2" textLength="75.5" lengthAdjust="spacing" xml:space="preserve">35 <tspan font-size="10" dy="-0.4" fill="#555" stroke="none">°</tspan><tspan dy="0.4">C, </tspan><tspan font-family='"Liberation Serif", serif' fill="#555" stroke="none" font-size="10.5">τ</tspan> = 0.08 s</text></g>
<g transform="translate(20.8,48.3) scale(0.9867,0.9867) translate(-22.4,-47.9)"><text transform="translate(22.4,47.9) rotate(-90)" font-size="8.8" fill="#333" text-anchor="middle" stroke="#333" stroke-width="0.05" xml:space="preserve">Response (RU)</text></g>
<g transform="translate(21.5,158.48) scale(0.9976,0.9976) translate(-22.7,-158.4)"><text transform="translate(22.7,158.4) rotate(-90)" font-size="8.65" fill="#333" text-anchor="middle" stroke="#333" stroke-width="0.05" xml:space="preserve">Response (RU)</text></g>
<g transform="translate(20.88,265.04) scale(1.0002,1.0002) translate(-22.8,-265.2)"><text transform="translate(22.8,265.2) rotate(-90)" font-size="9.35" fill="#333" text-anchor="middle" stroke="#333" stroke-width="0.05" xml:space="preserve">Response (RU)</text></g>
<g transform="translate(323.56,228.04) scale(1.0261,1.0261) translate(-323.8,-228.2)"><text x="323.4" y="228.2" font-size="8.8" fill="#383838" stroke="#383838" stroke-width="0.05" textLength="31.5" lengthAdjust="spacingAndGlyphs" xml:space="preserve">time (s)</text></g>
<g transform="translate(550.4,226.18) scale(1.0266,1.0266) translate(-550,-226.5)"><text x="549.6" y="226.5" font-size="8.8" fill="#383838" stroke="#383838" stroke-width="0.05" textLength="31" lengthAdjust="spacingAndGlyphs" xml:space="preserve">time (s)</text></g>
<g transform="translate(110.78,339.64) scale(1.0157,1.0157) translate(-110.7,-339.8)"><text x="110.3" y="339.8" font-size="8.8" fill="#383838" stroke="#383838" stroke-width="0.05" textLength="31.4" lengthAdjust="spacingAndGlyphs" xml:space="preserve">time (s)</text></g>
<path d="M263.5,87.6 V95.5 M259.2,94.8 L262.6,88.6 M259,89.6 H263.4 M260.8,92 L262.4,89.4" stroke="#555" stroke-width="0.7" fill="none"/>
<g transform="translate(0.36,11.96) scale(0.8369,1.0030) translate(-0.2,-11.8)"><text x="0.2" y="11.8" font-size="21.5" fill="#000" font-weight="bold" xml:space="preserve">a</text></g>
<path d="M42.3,360.2 H283.7" stroke="#555" stroke-width="1" fill="none"/>
<path d="M283.7,360.2 V508.6" stroke="#6a6a6a" stroke-width="1" fill="none"/>
<text x="36.9" y="507.3" font-size="8.3" fill="#222" text-anchor="end" stroke="#222" stroke-width="0.05" xml:space="preserve">-15</text>
<text x="36.9" y="483.3" font-size="8.3" fill="#222" text-anchor="end" stroke="#222" stroke-width="0.05" xml:space="preserve">-10</text>
<text x="36.9" y="459.3" font-size="8.3" fill="#222" text-anchor="end" stroke="#222" stroke-width="0.05" xml:space="preserve">-5</text>
<text x="36.9" y="435.3" font-size="8.3" fill="#222" text-anchor="end" stroke="#222" stroke-width="0.05" xml:space="preserve">0</text>
<text x="36.9" y="411.3" font-size="8.3" fill="#222" text-anchor="end" stroke="#222" stroke-width="0.05" xml:space="preserve">5</text>
<text x="36.9" y="387.3" font-size="8.3" fill="#222" text-anchor="end" stroke="#222" stroke-width="0.05" xml:space="preserve">10</text>
<text x="36.9" y="363.3" font-size="8.3" fill="#222" text-anchor="end" stroke="#222" stroke-width="0.05" xml:space="preserve">15</text>
<path d="M42.3,360.2 V508.6 M42.3,504.3 H283.7 M123.5,504.3 V508.6 M203.3,504.3 V508.6 M37.7,504.3 H42.3 M37.7,480.3 H42.3 M37.7,456.3 H42.3 M37.7,432.3 H42.3 M37.7,408.3 H42.3 M37.7,384.3 H42.3 M37.7,360.3 H42.3" stroke="#222" stroke-width="1" fill="none"/>
<line x1="46.1" y1="432.6" x2="281" y2="432.6" stroke="#111" stroke-width="1.45" stroke-dasharray="1.5 2.88"/>
<path d="M60.5,432.3 L79.8,389.1 L98.1,389.1 L116.9,467.2" fill="none" stroke="#1a1aff" stroke-width="1.8" stroke-linejoin="round"/>
<path d="M79.8,384.6 V393.3 M76.9,384.6 H82.7 M76.9,393.3 H82.7" stroke="#1a1aff" stroke-width="1.4" fill="none"/>
<path d="M98.1,384.4 V393.5 M95.2,384.4 H101 M95.2,393.5 H101" stroke="#1a1aff" stroke-width="1.4" fill="none"/>
<path d="M116.9,463.5 V471.4 M114,463.5 H119.8 M114,471.4 H119.8" stroke="#1a1aff" stroke-width="1.4" fill="none"/>
<path d="M134.7,432.3 L153.9,426.0 L172.3,426.0 L191.1,486.3" fill="none" stroke="#ff1a1a" stroke-width="1.8" stroke-linejoin="round"/>
<path d="M153.9,424.1 V428.6 M151,424.1 H156.8 M151,428.6 H156.8" stroke="#ff1a1a" stroke-width="1.4" fill="none"/>
<path d="M172.3,424.1 V428.6 M169.4,424.1 H175.2 M169.4,428.6 H175.2" stroke="#ff1a1a" stroke-width="1.4" fill="none"/>
<path d="M191.1,484.2 V489.0 M188.2,484.2 H194 M188.2,489.0 H194" stroke="#ff1a1a" stroke-width="1.4" fill="none"/>
<path d="M209.5,432.3 L228.2,394.7 L246.7,394.7 L265.4,413.2" fill="none" stroke="#111111" stroke-width="1.8" stroke-linejoin="round"/>
<path d="M228.2,392.4 V396.9 M225.3,392.4 H231.1 M225.3,396.9 H231.1" stroke="#111111" stroke-width="1.4" fill="none"/>
<path d="M246.7,392.4 V396.9 M243.8,392.4 H249.6 M243.8,396.9 H249.6" stroke="#111111" stroke-width="1.4" fill="none"/>
<path d="M265.4,410.9 V415.4 M262.5,410.9 H268.3 M262.5,415.4 H268.3" stroke="#111111" stroke-width="1.4" fill="none"/>
<g transform="translate(80.84,373.04) scale(1.0548,1.0548) translate(-81.8,-372.8)"><text x="81.8" y="372.8" font-size="9.6" fill="#2a2aff" xml:space="preserve"><tspan font-family='"Liberation Serif", serif' font-size="8.8">Δ</tspan>G<tspan font-size="10" dy="0.4" fill="#4a4aff">°</tspan></text></g>
<g transform="translate(155.34,372.58) scale(1.0030,1.0030) translate(-155.5,-372.9)"><text x="155.5" y="372.9" font-size="9.6" fill="#ff2020" xml:space="preserve"><tspan font-family='"Liberation Serif", serif' font-size="8.8">Δ</tspan>H<tspan font-size="10" dy="0.4" fill="#ff4a4a">°</tspan></text></g>
<g transform="translate(229.56,371.9) scale(0.9782,0.9782) translate(-229.8,-371.9)"><text x="229.8" y="371.9" font-size="9.6" fill="#111" xml:space="preserve">-T<tspan font-family='"Liberation Serif", serif' font-size="8.8">Δ</tspan>S<tspan font-size="10" dy="0.4" fill="#777">°</tspan></text></g>
<text x="57.9" y="514.2" font-size="8.2" fill="#2a2aff" xml:space="preserve">A+B</text>
<text x="77.7" y="514.2" font-size="8.2" fill="#2a2aff" xml:space="preserve">A–B</text>
<text x="98" y="514.2" font-size="8.2" fill="#2a2aff" xml:space="preserve">AB</text>
<text x="139.3" y="514.2" font-size="8.2" fill="#ff2020" xml:space="preserve">A+B</text>
<text x="159" y="514.2" font-size="8.2" fill="#ff2020" xml:space="preserve">A–B</text>
<text x="179.3" y="514.2" font-size="8.2" fill="#ff2020" xml:space="preserve">AB</text>
<text x="218.4" y="514.2" font-size="8.2" fill="#222" xml:space="preserve">A+B</text>
<text x="237.7" y="514.2" font-size="8.2" fill="#222" xml:space="preserve">A–B</text>
<text x="257.4" y="514.2" font-size="8.2" fill="#222" xml:space="preserve">AB</text>
<g transform="translate(158,527.94) scale(1.0933,1.0933) translate(-158.4,-527.7)"><text x="158.4" y="527.7" font-size="9.6" fill="#222" text-anchor="middle" stroke="#222" stroke-width="0.12" xml:space="preserve">Reaction Coordinate</text></g>
<g transform="translate(22.84,433.16) scale(1.1250,1.1250) translate(-22.6,-433)"><text transform="translate(22.6,433) rotate(-90)" text-anchor="middle" font-size="9.2" fill="#222" stroke="#222" stroke-width="0.12">Energy (kcal mol<tspan dy="-3" font-size="6">-1</tspan><tspan dy="3">)</tspan></text></g>
<g transform="translate(-0.22,368.32) scale(0.8412,0.9430) translate(-0.1,-368)"><text x="0.1" y="368" font-size="20.5" fill="#000" font-weight="bold" xml:space="preserve">c</text></g>
<g transform="translate(321.48,257.9) scale(0.9042,1.0292) translate(-321,-257.9)"><text x="321" y="257.9" font-size="23.5" fill="#000" font-weight="bold" xml:space="preserve">b</text></g>
<path d="M364.3,245.9 V352.1 M364.3,351.6 H474.1 M360.9,351.6 H364.3 M360.9,316.35 H364.3 M360.9,281.1 H364.3 M360.9,245.85 H364.3 M364.3,351.6 V354.8 M382.6,351.6 V354.8 M400.9,351.6 V354.8 M419.2,351.6 V354.8 M437.5,351.6 V354.8 M455.8,351.6 V354.8 M474.1,351.6 V354.8" stroke="#474747" stroke-width="1" fill="none"/>
<g transform="translate(359.3,0) scale(0.900,1) translate(-359.3,0)"><text x="359.3" y="354.39" font-size="7.8" fill="#222" text-anchor="end" stroke="#222" stroke-width="0.12" xml:space="preserve">0</text></g>
<g transform="translate(359.3,0) scale(0.900,1) translate(-359.3,0)"><text x="359.3" y="319.14" font-size="7.8" fill="#222" text-anchor="end" stroke="#222" stroke-width="0.12" xml:space="preserve">5</text></g>
<g transform="translate(359.3,0) scale(0.900,1) translate(-359.3,0)"><text x="359.3" y="283.89" font-size="7.8" fill="#222" text-anchor="end" stroke="#222" stroke-width="0.12" xml:space="preserve">10</text></g>
<g transform="translate(359.3,0) scale(0.900,1) translate(-359.3,0)"><text x="359.3" y="248.64" font-size="7.8" fill="#222" text-anchor="end" stroke="#222" stroke-width="0.12" xml:space="preserve">15</text></g>
<text x="364.3" y="362.89" font-size="7.8" fill="#222" text-anchor="middle" stroke="#222" stroke-width="0.12" xml:space="preserve">5</text>
<text x="382.6" y="362.89" font-size="7.8" fill="#222" text-anchor="middle" stroke="#222" stroke-width="0.12" xml:space="preserve">10</text>
<text x="400.9" y="362.89" font-size="7.8" fill="#222" text-anchor="middle" stroke="#222" stroke-width="0.12" xml:space="preserve">15</text>
<text x="419.2" y="362.89" font-size="7.8" fill="#222" text-anchor="middle" stroke="#222" stroke-width="0.12" xml:space="preserve">20</text>
<text x="437.5" y="362.89" font-size="7.8" fill="#222" text-anchor="middle" stroke="#222" stroke-width="0.12" xml:space="preserve">25</text>
<text x="455.8" y="362.89" font-size="7.8" fill="#222" text-anchor="middle" stroke="#222" stroke-width="0.12" xml:space="preserve">30</text>
<text x="474.1" y="362.89" font-size="7.8" fill="#222" text-anchor="middle" stroke="#222" stroke-width="0.12" xml:space="preserve">35</text>
<path d="M364.30,342.79 L366.13,342.44 L367.96,342.08 L369.79,341.70 L371.62,341.31 L373.45,340.90 L375.28,340.48 L377.11,340.04 L378.94,339.58 L380.77,339.10 L382.60,338.61 L384.43,338.10 L386.26,337.56 L388.09,337.01 L389.92,336.43 L391.75,335.83 L393.58,335.21 L395.41,334.56 L397.24,333.88 L399.07,333.18 L400.90,332.45 L402.73,331.69 L404.56,330.91 L406.39,330.09 L408.22,329.24 L410.05,328.35 L411.88,327.43 L413.71,326.48 L415.54,325.48 L417.37,324.45 L419.20,323.38 L421.03,322.26 L422.86,321.10 L424.69,319.89 L426.52,318.64 L428.35,317.33 L430.18,315.98 L432.01,314.57 L433.84,313.10 L435.67,311.58 L437.50,310.00 L439.33,308.35 L441.16,306.64 L442.99,304.86 L444.82,303.01 L446.65,301.09 L448.48,299.09 L450.31,297.01 L452.14,294.85 L453.97,292.61 L455.80,290.28 L457.63,287.85 L459.46,285.33 L461.29,282.71 L463.12,279.98 L464.95,277.15 L466.78,274.20 L468.61,271.14 L470.44,267.96 L472.27,264.65 L474.10,261.21" fill="none" stroke="#3a3aff" stroke-width="0.9"/>
<circle cx="364.30" cy="343.42" r="2.3" fill="#0a0af5"/>
<circle cx="382.60" cy="338.91" r="2.3" fill="#0a0af5"/>
<circle cx="400.90" cy="331.58" r="2.3" fill="#0a0af5"/>
<circle cx="419.20" cy="323.40" r="2.3" fill="#0a0af5"/>
<circle cx="437.50" cy="306.48" r="2.3" fill="#0a0af5"/>
<circle cx="455.80" cy="291.89" r="2.3" fill="#0a0af5"/>
<circle cx="474.10" cy="261.36" r="2.3" fill="#0a0af5"/>
<g transform="translate(376.72,280.16) scale(0.9903,0.9903) translate(-376.8,-279.6)"><text x="376.8" y="279.6" font-size="10.3" font-style="italic" fill="#222" stroke="#222" stroke-width="0.1" xml:space="preserve">R<tspan dy="-3.6" font-size="7" font-style="normal">2</tspan><tspan dy="3.6"> = 0.989</tspan></text></g>
<g transform="translate(422.72,375.16) scale(1.0015,1.0015) translate(-423.2,-377.4)"><text x="423.2" y="377.4" text-anchor="middle" font-size="9" fill="#222" stroke="#222" stroke-width="0.1">T (<tspan dy="-3" font-size="6">o</tspan><tspan dy="3">C)</tspan></text></g>
<g transform="translate(343.48,299.04) scale(1.0564,1.0564) translate(-344.6,-299.6)"><text transform="translate(344.6,299.6) rotate(-90)" text-anchor="middle" font-size="9" fill="#222" stroke="#222" stroke-width="0.1"><tspan font-style="italic">k</tspan><tspan font-style="italic" font-size="6" dy="1.8">d</tspan><tspan dy="-1.8"> (s</tspan><tspan dy="-3" font-size="6">-1</tspan><tspan dy="3">)</tspan></text></g>
<path d="M533.8,245.2 V353.2 M533.8,352.7 H645.8 M530.4,245.2 H533.8 M530.4,272.1 H533.8 M530.4,299 H533.8 M530.4,325.9 H533.8 M530.4,352.8 H533.8 M561.8,352.7 V355.9 M603.8,352.7 V355.9 M645.8,352.7 V355.9" stroke="#474747" stroke-width="1" fill="none"/>
<g transform="translate(529.5,0) scale(0.980,1) translate(-529.5,0)"><text x="529.5" y="248.21" font-size="8.4" fill="#222" text-anchor="end" stroke="#222" stroke-width="0.12" xml:space="preserve">-14</text></g>
<g transform="translate(529.5,0) scale(0.980,1) translate(-529.5,0)"><text x="529.5" y="275.11" font-size="8.4" fill="#222" text-anchor="end" stroke="#222" stroke-width="0.12" xml:space="preserve">-15</text></g>
<g transform="translate(529.5,0) scale(0.980,1) translate(-529.5,0)"><text x="529.5" y="302.01" font-size="8.4" fill="#222" text-anchor="end" stroke="#222" stroke-width="0.12" xml:space="preserve">-16</text></g>
<g transform="translate(529.5,0) scale(0.980,1) translate(-529.5,0)"><text x="529.5" y="328.91" font-size="8.4" fill="#222" text-anchor="end" stroke="#222" stroke-width="0.12" xml:space="preserve">-17</text></g>
<g transform="translate(529.5,0) scale(0.980,1) translate(-529.5,0)"><text x="529.5" y="355.81" font-size="8.4" fill="#222" text-anchor="end" stroke="#222" stroke-width="0.12" xml:space="preserve">-18</text></g>
<g transform="translate(561.8,0) scale(0.889,1) translate(-561.8,0)"><text x="561.8" y="364.69" font-size="8.9" fill="#222" text-anchor="middle" stroke="#222" stroke-width="0.12" xml:space="preserve">0.00330</text></g>
<g transform="translate(603.8,0) scale(0.889,1) translate(-603.8,0)"><text x="603.8" y="364.69" font-size="8.9" fill="#222" text-anchor="middle" stroke="#222" stroke-width="0.12" xml:space="preserve">0.00345</text></g>
<g transform="translate(645.8,0) scale(0.889,1) translate(-645.8,0)"><text x="645.8" y="364.69" font-size="8.9" fill="#222" text-anchor="middle" stroke="#222" stroke-width="0.12" xml:space="preserve">0.00360</text></g>
<line x1="546" y1="280.2" x2="645" y2="286.2" stroke="#2020ee" stroke-width="1.5"/>
<circle cx="546.2" cy="281.5" r="2.45" fill="#0a0af5"/>
<circle cx="561.8" cy="282.4" r="2.45" fill="#0a0af5"/>
<circle cx="577" cy="279.4" r="2.45" fill="#0a0af5"/>
<circle cx="593" cy="281.2" r="2.45" fill="#0a0af5"/>
<circle cx="609.6" cy="281.7" r="2.45" fill="#0a0af5"/>
<circle cx="627.2" cy="285.1" r="2.45" fill="#0a0af5"/>
<circle cx="644.6" cy="287.7" r="2.45" fill="#0a0af5"/>
<g transform="translate(572.22,316.2) scale(0.9625,1.0000) translate(-571.5,-316.2)"><text x="571.5" y="316.2" font-size="10.3" font-style="italic" fill="#222" stroke="#222" stroke-width="0.1" xml:space="preserve"><tspan font-family='"Liberation Serif", serif' font-size="11">χ</tspan><tspan dy="-3.6" font-size="7" font-style="normal">2</tspan><tspan dy="3.6"> = 0.585</tspan></text></g>
<g transform="translate(597.12,377.04) scale(1.0754,1.0754) translate(-597.2,-377.2)"><text x="597.2" y="377.2" text-anchor="middle" font-size="9" fill="#222" stroke="#222" stroke-width="0.1">1/T (K<tspan dy="-3" font-size="6">-1</tspan><tspan dy="3">)</tspan></text></g>
<g transform="translate(511.64,300.1) scale(1.0285,1.0285) translate(-512.6,-299.7)"><text transform="translate(512.6,299.7) rotate(-90)" text-anchor="middle" font-size="8.8" fill="#222" stroke="#222" stroke-width="0.1">Ln(<tspan font-style="italic">k</tspan><tspan font-style="italic" font-size="6" dy="1.8">a</tspan><tspan dy="-1.8">.</tspan><tspan font-style="italic">h</tspan>/<tspan font-style="italic">k</tspan><tspan font-size="6" dy="1.8">b</tspan><tspan dy="-1.8">. </tspan><tspan font-style="italic">T</tspan>)</text></g>
<path d="M357,391.6 V505.5 M357,505 H474.6 M353.6,391.6 H357 M353.6,419.9 H357 M353.6,448.2 H357 M353.6,476.5 H357 M353.6,504.8 H357 M386.4,505 V508.2 M430.5,505 V508.2 M474.6,505 V508.2" stroke="#474747" stroke-width="1" fill="none"/>
<text x="352.3" y="394.54" font-size="8.2" fill="#222" text-anchor="end" stroke="#222" stroke-width="0.12" xml:space="preserve">-26</text>
<text x="352.3" y="422.84" font-size="8.2" fill="#222" text-anchor="end" stroke="#222" stroke-width="0.12" xml:space="preserve">-27</text>
<text x="352.3" y="451.14" font-size="8.2" fill="#222" text-anchor="end" stroke="#222" stroke-width="0.12" xml:space="preserve">-28</text>
<text x="352.3" y="479.44" font-size="8.2" fill="#222" text-anchor="end" stroke="#222" stroke-width="0.12" xml:space="preserve">-29</text>
<text x="352.3" y="507.74" font-size="8.2" fill="#222" text-anchor="end" stroke="#222" stroke-width="0.12" xml:space="preserve">-30</text>
<g transform="translate(386.4,0) scale(0.968,1) translate(-386.4,0)"><text x="386.4" y="516.89" font-size="8.5" fill="#222" text-anchor="middle" stroke="#222" stroke-width="0.12" xml:space="preserve">0.00330</text></g>
<g transform="translate(430.5,0) scale(0.968,1) translate(-430.5,0)"><text x="430.5" y="516.89" font-size="8.5" fill="#222" text-anchor="middle" stroke="#222" stroke-width="0.12" xml:space="preserve">0.00345</text></g>
<g transform="translate(474.6,0) scale(0.968,1) translate(-474.6,0)"><text x="474.6" y="516.89" font-size="8.5" fill="#222" text-anchor="middle" stroke="#222" stroke-width="0.12" xml:space="preserve">0.00360</text></g>
<line x1="370" y1="418.4" x2="473.5" y2="481.0" stroke="#3a3aff" stroke-width="0.9"/>
<circle cx="370" cy="418.1" r="2.45" fill="#0a0af5"/>
<circle cx="386.2" cy="429.2" r="2.45" fill="#0a0af5"/>
<circle cx="402.1" cy="436.3" r="2.45" fill="#0a0af5"/>
<circle cx="419.1" cy="449.1" r="2.45" fill="#0a0af5"/>
<circle cx="436.7" cy="458.1" r="2.45" fill="#0a0af5"/>
<circle cx="454.8" cy="470" r="2.45" fill="#0a0af5"/>
<circle cx="473.5" cy="481.2" r="2.45" fill="#0a0af5"/>
<g transform="translate(379.68,480.9) scale(0.9576,0.9576) translate(-379.6,-480.5)"><text x="379.6" y="480.5" font-size="10.3" font-style="italic" fill="#222" stroke="#222" stroke-width="0.1" xml:space="preserve">R<tspan dy="-3.6" font-size="7" font-style="normal">2</tspan><tspan dy="3.6"> = 0.998</tspan></text></g>
<g transform="translate(420.02,529.56) scale(1.0517,1.0517) translate(-420.5,-529.4)"><text x="420.5" y="529.4" text-anchor="middle" font-size="9" fill="#222" stroke="#222" stroke-width="0.1">1/T (K<tspan dy="-3" font-size="6">-1</tspan><tspan dy="3">)</tspan></text></g>
<g transform="translate(333.96,448.82) scale(1.0794,1.0794) translate(-335.4,-448.9)"><text transform="translate(335.4,448.9) rotate(-90)" text-anchor="middle" font-size="8.8" fill="#222" stroke="#222" stroke-width="0.1">Ln(<tspan font-style="italic">k</tspan><tspan font-style="italic" font-size="6" dy="1.8">d</tspan><tspan dy="-1.8">.</tspan><tspan font-style="italic">h</tspan>/<tspan font-style="italic">k</tspan><tspan font-size="6" dy="1.8">b</tspan><tspan dy="-1.8">. </tspan><tspan font-style="italic">T</tspan>)</text></g>
<path d="M542.8,383.5 V505 M542.8,504.5 H668.4 M539.4,383.5 H542.8 M539.4,413.75 H542.8 M539.4,444 H542.8 M539.4,474.25 H542.8 M539.4,504.5 H542.8 M574.2,504.5 V507.7 M621.3,504.5 V507.7 M668.4,504.5 V507.7" stroke="#474747" stroke-width="1" fill="none"/>
<g transform="translate(537.5,0) scale(0.980,1) translate(-537.5,0)"><text x="537.5" y="386.79" font-size="9.2" fill="#222" text-anchor="end" stroke="#222" stroke-width="0.12" xml:space="preserve">-11</text></g>
<g transform="translate(537.5,0) scale(0.980,1) translate(-537.5,0)"><text x="537.5" y="417.04" font-size="9.2" fill="#222" text-anchor="end" stroke="#222" stroke-width="0.12" xml:space="preserve">-12</text></g>
<g transform="translate(537.5,0) scale(0.980,1) translate(-537.5,0)"><text x="537.5" y="447.29" font-size="9.2" fill="#222" text-anchor="end" stroke="#222" stroke-width="0.12" xml:space="preserve">-13</text></g>
<g transform="translate(537.5,0) scale(0.980,1) translate(-537.5,0)"><text x="537.5" y="477.54" font-size="9.2" fill="#222" text-anchor="end" stroke="#222" stroke-width="0.12" xml:space="preserve">-14</text></g>
<g transform="translate(537.5,0) scale(0.980,1) translate(-537.5,0)"><text x="537.5" y="507.79" font-size="9.2" fill="#222" text-anchor="end" stroke="#222" stroke-width="0.12" xml:space="preserve">-15</text></g>
<g transform="translate(574.2,0) scale(0.914,1) translate(-574.2,0)"><text x="574.2" y="517.81" font-size="9.8" fill="#222" text-anchor="middle" stroke="#222" stroke-width="0.12" xml:space="preserve">0.00330</text></g>
<g transform="translate(621.3,0) scale(0.914,1) translate(-621.3,0)"><text x="621.3" y="517.81" font-size="9.8" fill="#222" text-anchor="middle" stroke="#222" stroke-width="0.12" xml:space="preserve">0.00345</text></g>
<g transform="translate(668.4,0) scale(0.914,1) translate(-668.4,0)"><text x="668.4" y="517.81" font-size="9.8" fill="#222" text-anchor="middle" stroke="#222" stroke-width="0.12" xml:space="preserve">0.00360</text></g>
<line x1="557" y1="403.0" x2="667.6" y2="463.6" stroke="#3a3aff" stroke-width="0.9"/>
<circle cx="557" cy="401.3" r="2.45" fill="#0a0af5"/>
<circle cx="573.9" cy="412.2" r="2.45" fill="#0a0af5"/>
<circle cx="591.2" cy="423.3" r="2.45" fill="#0a0af5"/>
<circle cx="608.7" cy="434.8" r="2.45" fill="#0a0af5"/>
<circle cx="627.6" cy="443.9" r="2.45" fill="#0a0af5"/>
<circle cx="647" cy="453.1" r="2.45" fill="#0a0af5"/>
<circle cx="667.6" cy="461.9" r="2.45" fill="#0a0af5"/>
<text x="566.2" y="477.9" font-size="10.3" font-style="italic" fill="#222" stroke="#222" stroke-width="0.1" xml:space="preserve">R<tspan dy="-3.6" font-size="7" font-style="normal">2</tspan><tspan dy="3.6"> = 0.993</tspan></text>
<g transform="translate(608.1,529.28) scale(1.0465,1.0465) translate(-608.5,-529.2)"><text x="608.5" y="529.2" text-anchor="middle" font-size="9" fill="#222" stroke="#222" stroke-width="0.1">1/T (K<tspan dy="-3" font-size="6">-1</tspan><tspan dy="3">)</tspan></text></g>
<g transform="translate(519.82,445.16) scale(1.1348,1.1348) translate(-520.3,-445)"><text transform="translate(520.3,445) rotate(-90)" text-anchor="middle" font-size="9" fill="#222" stroke="#222" stroke-width="0.1">Ln(<tspan font-style="italic">K</tspan><tspan font-style="italic" font-size="6" dy="1.8">D</tspan><tspan dy="-1.8">)</tspan></text></g>
</svg></body></html>
